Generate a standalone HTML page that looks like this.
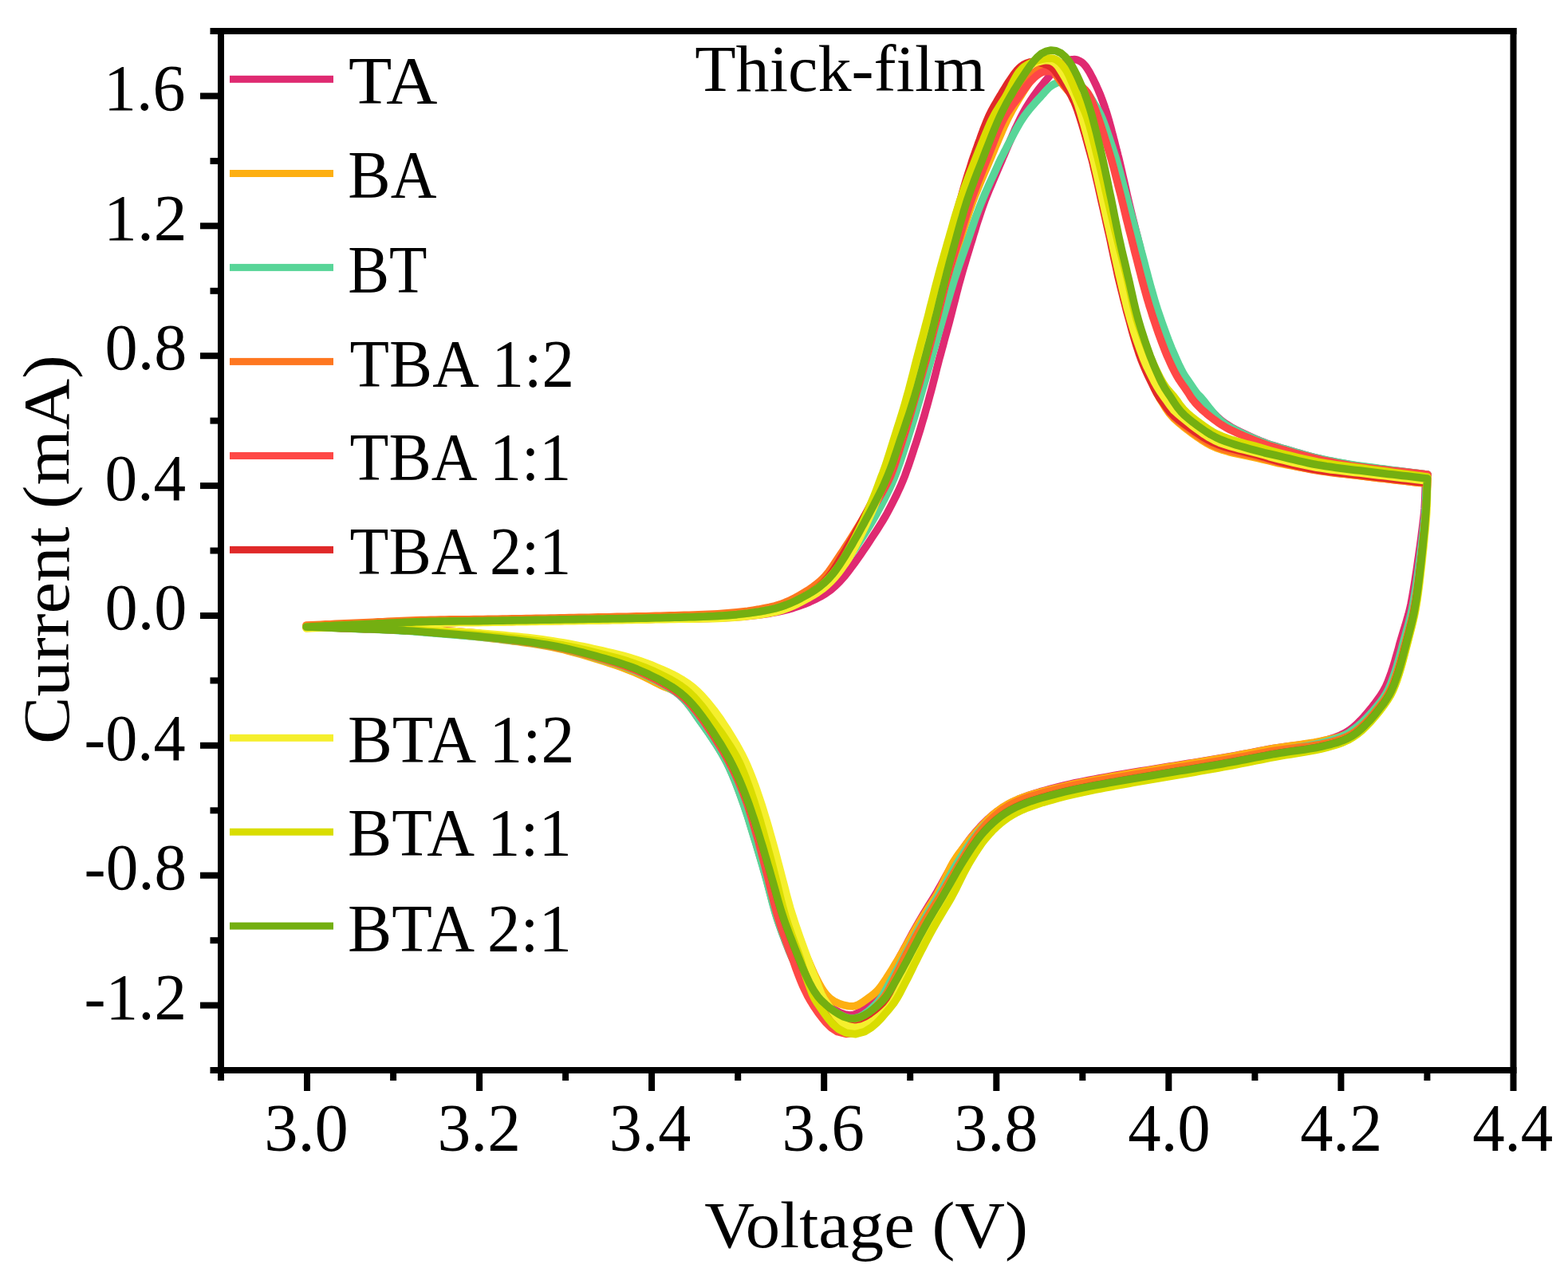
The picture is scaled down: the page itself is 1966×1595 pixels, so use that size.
<!DOCTYPE html>
<html><head><meta charset="utf-8"><title>Thick-film CV</title>
<style>html,body{margin:0;padding:0;background:#fff;}svg{display:block;}</style>
</head><body>
<svg xmlns="http://www.w3.org/2000/svg" width="1966" height="1595" viewBox="0 0 1966 1595">
<rect width="1966" height="1595" fill="#fff"/>
<g fill="none" stroke-width="9.6" stroke-linejoin="round" stroke-linecap="round">
<path stroke="#DF2A71" d="M384.1,787.5 L390.1,787.2 L396.1,786.9 L402.1,786.7 L408.0,786.4 L414.0,786.1 L420.0,785.9 L426.0,785.6 L432.0,785.3 L438.0,785.1 L444.0,784.8 L450.0,784.5 L456.0,784.2 L462.0,784.0 L468.0,783.7 L474.0,783.4 L480.0,783.1 L486.0,782.9 L492.0,782.6 L498.0,782.4 L504.0,782.1 L510.0,781.8 L516.0,781.6 L522.0,781.3 L527.9,781.1 L533.9,780.9 L539.9,780.8 L545.9,780.7 L551.9,780.6 L557.9,780.5 L563.9,780.4 L569.9,780.4 L575.9,780.3 L581.9,780.2 L587.9,780.2 L593.9,780.1 L599.9,780.0 L605.9,780.0 L611.9,779.9 L617.9,779.8 L623.9,779.7 L629.9,779.6 L635.9,779.5 L641.9,779.4 L647.9,779.3 L653.9,779.2 L659.9,779.1 L665.9,779.0 L671.9,778.9 L677.9,778.8 L683.9,778.7 L689.9,778.6 L695.9,778.5 L701.9,778.4 L707.9,778.3 L713.9,778.2 L719.9,778.1 L725.9,778.0 L731.9,777.9 L737.9,777.8 L743.9,777.7 L749.9,777.6 L755.9,777.5 L762.0,777.4 L768.0,777.3 L774.0,777.2 L780.0,777.1 L786.0,777.0 L792.0,776.9 L798.0,776.8 L804.0,776.7 L810.0,776.6 L816.0,776.4 L822.0,776.3 L828.0,776.2 L834.0,776.1 L840.0,775.9 L846.0,775.9 L852.0,775.8 L858.0,775.8 L864.0,775.7 L870.0,775.7 L876.0,775.6 L882.0,775.5 L888.0,775.4 L894.0,775.3 L900.1,775.1 L906.1,774.8 L912.1,774.5 L918.1,774.2 L924.2,773.7 L931.2,773.1 L938.2,772.4 L945.2,771.7 L952.2,770.9 L959.3,770.0 L966.3,768.9 L973.4,767.6 L980.5,766.0 L987.6,764.3 L994.7,762.3 L1001.6,760.0 L1008.5,757.5 L1015.2,754.7 L1021.8,751.6 L1028.4,748.3 L1035.1,744.3 L1041.5,739.8 L1047.5,734.7 L1053.1,729.1 L1058.2,723.4 L1062.9,717.5 L1067.3,711.7 L1071.6,705.8 L1075.8,699.9 L1079.3,694.9 L1082.8,689.8 L1086.3,684.7 L1089.7,679.6 L1093.0,674.5 L1096.4,669.4 L1099.7,664.3 L1102.9,659.2 L1106.2,654.0 L1109.3,648.8 L1112.3,643.5 L1115.2,638.1 L1118.0,632.6 L1120.8,627.1 L1123.6,621.5 L1126.3,615.8 L1129.0,610.0 L1131.9,603.1 L1134.7,596.2 L1136.8,590.2 L1138.9,584.3 L1140.9,578.5 L1142.8,572.7 L1144.7,567.0 L1146.5,561.3 L1148.4,555.7 L1150.2,550.0 L1152.0,544.3 L1153.8,538.5 L1155.5,532.7 L1157.2,526.9 L1159.0,521.0 L1160.6,515.1 L1162.3,509.2 L1163.9,503.2 L1165.5,497.3 L1167.1,491.4 L1168.7,485.5 L1170.2,479.6 L1171.7,473.7 L1173.2,467.9 L1174.6,462.0 L1176.1,456.2 L1177.6,450.4 L1179.2,444.6 L1180.8,438.8 L1182.4,433.0 L1183.9,427.1 L1185.5,421.3 L1187.1,415.5 L1188.6,409.7 L1190.2,403.9 L1191.7,398.0 L1193.2,392.2 L1194.7,386.3 L1196.2,380.5 L1197.7,374.7 L1199.1,368.9 L1200.6,363.2 L1202.1,357.4 L1203.7,351.7 L1205.3,345.9 L1206.9,340.2 L1208.6,334.5 L1210.3,328.8 L1212.0,323.0 L1213.7,317.3 L1215.5,311.6 L1217.2,305.9 L1219.0,300.2 L1220.7,294.4 L1222.5,288.7 L1224.2,283.0 L1226.0,277.4 L1227.8,271.9 L1229.6,266.4 L1231.5,260.9 L1233.4,255.6 L1235.4,250.2 L1237.6,244.8 L1239.7,239.4 L1242.0,234.0 L1244.3,228.6 L1246.6,223.1 L1249.0,217.6 L1251.3,212.1 L1253.7,206.5 L1256.5,200.0 L1257.7,197.2 L1258.9,194.5 L1260.1,191.7 L1261.2,188.9 L1262.4,186.1 L1263.6,183.4 L1264.8,180.6 L1266.0,177.8 L1267.2,175.0 L1268.4,172.3 L1269.6,169.5 L1270.8,166.8 L1272.0,164.0 L1273.2,161.2 L1274.5,158.5 L1275.8,155.8 L1277.1,153.0 L1278.4,150.3 L1279.7,147.6 L1281.1,144.9 L1282.5,142.3 L1284.0,139.6 L1285.5,137.0 L1287.0,134.4 L1288.6,131.9 L1290.2,129.3 L1291.8,126.8 L1293.5,124.3 L1295.2,121.8 L1296.9,119.3 L1298.7,116.8 L1300.5,114.4 L1302.3,112.0 L1304.1,109.6 L1306.0,107.3 L1307.9,104.9 L1309.8,102.6 L1311.7,100.3 L1313.7,98.0 L1315.7,95.7 L1317.7,93.4 L1319.7,91.2 L1321.7,89.0 L1323.8,86.8 L1326.0,84.7 L1328.3,82.7 L1330.6,80.9 L1333.1,79.1 L1335.7,77.6 L1338.4,76.3 L1341.3,75.3 L1344.2,74.7 L1347.2,74.6 L1350.2,75.0 L1353.0,76.1 L1355.6,77.6 L1358.0,79.5 L1360.1,81.7 L1361.9,84.0 L1363.6,86.6 L1365.2,89.1 L1366.7,91.7 L1368.1,94.4 L1369.5,97.0 L1370.9,99.7 L1372.2,102.5 L1373.5,105.2 L1374.8,107.9 L1376.0,110.6 L1377.3,113.4 L1378.4,116.2 L1379.6,119.0 L1380.7,121.8 L1381.7,124.6 L1382.8,127.4 L1383.8,130.3 L1384.8,133.1 L1385.7,136.0 L1386.7,138.8 L1387.6,141.7 L1388.5,144.6 L1389.3,147.5 L1390.2,150.4 L1391.0,153.3 L1391.8,156.2 L1392.6,159.1 L1393.4,162.0 L1394.1,164.9 L1394.9,167.9 L1395.7,170.8 L1396.4,173.7 L1397.2,176.6 L1397.9,179.5 L1398.6,182.5 L1399.4,185.4 L1400.1,188.3 L1400.9,191.2 L1401.6,194.2 L1402.4,197.1 L1403.1,200.0 L1405.2,208.9 L1406.6,214.8 L1407.9,220.7 L1409.3,226.6 L1410.6,232.5 L1411.9,238.3 L1413.2,244.2 L1414.6,250.1 L1416.0,256.0 L1417.4,261.8 L1418.8,267.7 L1420.2,273.5 L1421.7,279.3 L1423.1,285.0 L1424.5,290.7 L1426.0,296.4 L1427.4,302.1 L1428.8,307.8 L1430.2,313.6 L1431.6,319.4 L1433.0,325.2 L1434.4,331.0 L1435.9,336.9 L1437.3,342.8 L1438.8,348.7 L1440.3,354.6 L1441.9,360.4 L1443.5,366.2 L1445.1,371.9 L1446.7,377.4 L1448.3,382.9 L1450.0,388.3 L1451.8,393.7 L1453.6,399.0 L1455.5,404.4 L1457.3,409.9 L1459.3,415.3 L1461.2,420.8 L1463.3,426.2 L1465.3,431.5 L1467.4,436.8 L1469.5,442.0 L1471.7,447.1 L1474.0,452.1 L1476.4,457.1 L1479.3,462.8 L1482.2,468.0 L1485.0,472.5 L1488.1,476.9 L1492.4,482.7 L1496.7,489.0 L1499.9,493.3 L1502.3,496.0 L1505.3,499.0 L1508.8,503.2 L1512.6,508.2 L1516.8,513.3 L1520.7,517.4 L1525.2,521.8 L1529.5,525.6 L1533.8,529.1 L1538.5,532.4 L1543.7,535.6 L1549.4,538.7 L1554.6,541.3 L1559.9,543.8 L1565.3,546.3 L1570.8,548.8 L1576.3,551.3 L1581.8,553.6 L1588.1,556.0 L1594.6,558.2 L1601.3,560.2 L1607.2,562.0 L1613.0,563.7 L1618.8,565.4 L1624.5,567.1 L1630.2,568.7 L1635.9,570.3 L1641.6,571.9 L1647.3,573.3 L1653.0,574.8 L1658.7,576.1 L1664.5,577.4 L1670.3,578.5 L1676.2,579.7 L1682.0,580.8 L1687.9,581.8 L1693.8,582.9 L1699.8,583.8 L1705.7,584.7 L1711.7,585.5 L1717.6,586.2 L1723.6,587.0 L1729.5,587.7 L1735.5,588.4 L1741.4,589.2 L1747.4,589.9 L1753.3,590.6 L1759.3,591.3 L1765.2,592.1 L1771.2,592.8 L1777.2,593.5 L1783.1,594.2 L1789.1,594.9 L1790.1,595.1 L1787.5,600.0 L1787.4,606.9 L1787.2,612.9 L1787.0,618.9 L1786.8,624.9 L1786.5,630.9 L1786.1,637.8 L1785.6,643.8 L1784.9,649.8 L1784.2,655.7 L1783.5,661.7 L1782.7,667.6 L1782.0,673.5 L1781.2,679.5 L1780.4,685.4 L1779.5,691.4 L1778.7,697.3 L1777.8,703.2 L1777.0,709.2 L1776.1,715.1 L1775.2,721.0 L1774.3,726.9 L1773.4,732.8 L1772.4,738.7 L1771.4,744.6 L1770.4,750.5 L1769.1,757.2 L1767.6,764.0 L1765.9,770.6 L1764.0,777.2 L1762.1,783.8 L1760.3,789.5 L1758.5,795.3 L1756.8,801.0 L1755.1,806.8 L1753.6,812.6 L1752.0,818.3 L1750.3,824.1 L1748.7,829.7 L1746.7,836.3 L1744.6,842.8 L1742.3,849.2 L1739.9,855.5 L1737.3,861.4 L1734.3,866.9 L1730.9,872.3 L1727.1,877.6 L1723.1,883.0 L1718.9,888.4 L1714.6,893.6 L1710.2,898.7 L1705.7,903.5 L1701.1,908.1 L1696.3,912.3 L1691.3,916.0 L1686.0,919.3 L1680.3,922.1 L1674.3,924.5 L1667.9,926.6 L1661.3,928.5 L1654.7,930.1 L1648.0,931.4 L1641.2,932.5 L1634.4,933.4 L1628.5,934.2 L1622.5,934.9 L1616.5,935.7 L1610.5,936.5 L1603.5,937.5 L1596.5,938.6 L1590.6,939.6 L1584.6,940.7 L1578.7,941.8 L1572.8,943.0 L1566.9,944.1 L1561.0,945.2 L1555.1,946.3 L1549.2,947.4 L1543.4,948.5 L1537.5,949.5 L1531.6,950.5 L1525.7,951.5 L1519.8,952.5 L1513.9,953.5 L1508.0,954.5 L1502.1,955.4 L1496.2,956.4 L1490.2,957.3 L1484.3,958.3 L1478.4,959.2 L1472.5,960.2 L1466.5,961.1 L1460.6,962.1 L1454.7,963.0 L1448.8,964.0 L1442.8,964.9 L1436.9,965.9 L1431.0,966.8 L1425.0,967.8 L1419.1,968.8 L1413.2,969.8 L1407.2,970.8 L1401.3,971.8 L1395.4,972.8 L1389.5,973.9 L1383.6,975.0 L1377.6,976.0 L1371.7,977.1 L1365.8,978.2 L1359.9,979.4 L1353.9,980.6 L1348.0,981.8 L1341.0,983.4 L1334.1,985.0 L1328.2,986.5 L1322.4,988.0 L1316.5,989.5 L1310.7,991.1 L1303.8,993.0 L1297.0,995.1 L1290.1,997.3 L1283.3,999.8 L1276.5,1002.5 L1269.8,1005.6 L1263.2,1009.0 L1256.8,1012.9 L1250.7,1017.1 L1244.8,1021.7 L1239.3,1026.5 L1234.0,1031.6 L1228.9,1036.9 L1224.0,1042.4 L1219.3,1048.0 L1214.8,1053.8 L1210.6,1059.6 L1206.5,1065.4 L1203.0,1070.4 L1199.6,1075.4 L1195.7,1081.4 L1192.1,1087.6 L1188.6,1093.8 L1185.7,1099.1 L1182.8,1104.3 L1179.9,1109.5 L1177.0,1114.7 L1174.1,1119.8 L1171.0,1124.9 L1167.8,1130.0 L1164.7,1135.1 L1161.5,1140.2 L1158.3,1145.4 L1155.2,1150.6 L1151.6,1156.8 L1148.1,1163.0 L1145.1,1168.3 L1142.3,1173.6 L1139.4,1178.9 L1136.6,1184.2 L1133.8,1189.4 L1130.9,1194.7 L1128.0,1199.9 L1125.2,1205.2 L1122.3,1210.4 L1119.4,1215.5 L1115.9,1221.5 L1112.4,1227.6 L1109.0,1233.6 L1105.7,1239.3 L1102.4,1244.2 L1098.6,1248.6 L1094.3,1253.2 L1089.8,1258.0 L1085.3,1262.6 L1080.6,1266.9 L1075.8,1270.3 L1070.7,1272.4 L1065.2,1273.0 L1059.2,1272.0 L1053.0,1269.7 L1046.9,1266.6 L1040.9,1263.1 L1035.1,1259.2 L1029.5,1255.0 L1024.3,1250.1 L1019.6,1244.7 L1015.3,1238.9 L1011.4,1233.0 L1007.5,1227.0 L1003.9,1220.8 L1000.4,1214.5 L997.5,1209.2 L994.7,1203.8 L992.1,1198.4 L989.7,1192.9 L987.5,1187.3 L985.3,1181.7 L983.2,1176.0 L981.1,1170.3 L979.0,1164.6 L976.6,1157.9 L974.4,1151.2 L972.3,1144.3 L970.4,1137.5 L968.8,1131.7 L967.2,1125.8 L965.7,1120.0 L964.2,1114.2 L962.7,1108.4 L961.2,1102.6 L959.6,1096.9 L957.9,1091.1 L956.3,1085.3 L954.6,1079.6 L952.9,1073.8 L951.2,1068.1 L949.5,1062.4 L947.8,1056.7 L946.0,1050.9 L944.3,1045.2 L942.5,1039.5 L940.8,1033.8 L939.0,1028.1 L937.3,1022.4 L935.4,1016.8 L933.2,1010.2 L930.9,1003.7 L928.8,998.1 L926.8,992.5 L924.7,986.9 L922.2,980.5 L919.6,974.1 L916.9,967.8 L914.0,961.5 L911.0,955.4 L907.8,949.2 L904.3,943.3 L900.7,937.4 L897.0,931.5 L893.2,925.8 L889.3,920.0 L885.3,914.3 L881.3,908.6 L877.3,903.0 L873.4,897.4 L869.5,891.8 L865.5,886.3 L861.3,881.0 L856.7,876.0 L851.8,871.4 L846.4,867.3 L840.7,863.6 L834.8,860.1 L828.8,856.8 L822.7,853.5 L816.6,850.3 L810.4,847.2 L804.1,844.2 L797.8,841.4 L791.4,838.7 L784.9,836.2 L778.4,833.8 L771.8,831.6 L765.2,829.4 L758.5,827.3 L752.8,825.5 L747.0,823.8 L741.3,822.0 L735.5,820.3 L729.8,818.7 L724.0,817.1 L718.2,815.5 L712.4,814.0 L705.6,812.3 L698.8,810.8 L691.9,809.5 L685.0,808.3 L679.1,807.3 L673.2,806.4 L667.2,805.6 L661.3,804.8 L655.3,804.0 L649.4,803.3 L643.4,802.6 L637.4,801.9 L631.5,801.2 L625.5,800.6 L619.5,799.9 L613.6,799.3 L607.6,798.7 L601.6,798.1 L595.7,797.5 L589.7,797.0 L583.7,796.5 L577.7,796.0 L571.7,795.5 L565.8,795.0 L559.8,794.5 L553.8,794.1 L547.8,793.6 L541.8,793.1 L535.9,792.6 L529.9,792.2 L523.9,791.7 L517.9,791.3 L511.9,790.9 L505.9,790.6 L499.9,790.2 L493.9,789.9 L487.9,789.7 L481.9,789.4 L476.0,789.2 L470.0,789.0 L464.0,788.8 L458.0,788.6 L452.0,788.4 L446.0,788.2 L440.0,788.0 L434.0,787.8 L428.0,787.6 L422.0,787.3 L416.0,787.1 L410.0,786.9 L404.0,786.7 L398.0,786.5 L392.0,786.3 L386.0,786.1 L384.0,786.0"/>
<path stroke="#FDAF12" d="M384.0,786.1 L390.0,785.8 L396.0,785.6 L402.0,785.3 L408.0,785.0 L414.0,784.8 L420.0,784.5 L426.0,784.2 L432.0,783.9 L438.0,783.7 L444.0,783.4 L450.0,783.1 L456.0,782.9 L461.9,782.6 L467.9,782.3 L473.9,782.0 L479.9,781.8 L485.9,781.5 L491.9,781.2 L497.9,781.0 L503.9,780.7 L509.9,780.4 L515.9,780.2 L521.9,779.9 L527.9,779.7 L533.9,779.6 L539.9,779.4 L545.9,779.3 L551.9,779.2 L557.9,779.1 L563.9,779.0 L569.9,779.0 L575.9,778.9 L581.9,778.8 L587.9,778.8 L593.9,778.7 L599.9,778.6 L605.9,778.6 L611.9,778.5 L617.9,778.4 L623.9,778.3 L629.9,778.2 L635.9,778.1 L641.9,778.0 L647.9,777.9 L653.9,777.8 L659.9,777.7 L665.9,777.6 L671.9,777.5 L677.9,777.4 L683.9,777.3 L689.9,777.2 L695.9,777.1 L701.9,777.0 L707.9,776.9 L713.9,776.8 L719.9,776.7 L725.9,776.6 L731.9,776.5 L737.9,776.4 L743.9,776.3 L749.9,776.2 L755.9,776.1 L761.9,776.0 L767.9,775.9 L773.9,775.8 L779.9,775.7 L785.9,775.6 L791.9,775.5 L797.9,775.4 L803.9,775.3 L809.9,775.2 L815.9,775.0 L821.9,774.9 L827.9,774.8 L833.9,774.6 L839.9,774.5 L845.9,774.3 L851.9,774.2 L857.9,774.0 L863.9,773.8 L869.9,773.7 L875.9,773.5 L881.9,773.3 L887.9,773.0 L893.9,772.8 L899.9,772.5 L905.9,772.1 L911.9,771.7 L917.9,771.2 L923.9,770.7 L930.8,769.9 L937.8,769.1 L944.7,768.1 L951.6,767.1 L958.5,765.9 L965.4,764.5 L972.2,762.9 L978.9,761.0 L985.5,758.7 L991.9,756.1 L998.3,753.1 L1004.5,750.0 L1010.7,746.8 L1017.0,743.6 L1023.2,740.3 L1029.2,736.6 L1034.9,732.4 L1040.3,727.8 L1045.2,722.6 L1049.8,717.2 L1054.1,711.5 L1058.2,705.7 L1062.1,699.9 L1065.9,693.9 L1069.0,688.7 L1072.0,683.5 L1075.0,678.3 L1078.0,673.1 L1080.9,667.8 L1083.8,662.5 L1086.7,657.3 L1089.6,652.0 L1092.4,646.7 L1095.3,641.4 L1098.1,636.1 L1100.9,630.7 L1103.6,625.4 L1106.4,620.0 L1109.0,614.5 L1111.6,609.0 L1114.0,603.5 L1116.8,597.0 L1119.4,590.4 L1121.5,584.7 L1123.5,579.0 L1125.5,573.3 L1127.4,567.6 L1129.3,561.9 L1131.2,556.2 L1133.1,550.5 L1135.1,544.9 L1137.0,539.2 L1138.9,533.5 L1140.8,527.8 L1142.8,522.1 L1144.6,516.4 L1146.5,510.6 L1148.3,504.9 L1150.0,499.1 L1151.7,493.3 L1153.4,487.5 L1155.0,481.7 L1156.6,475.9 L1158.2,470.1 L1159.7,464.3 L1161.2,458.5 L1162.8,452.7 L1164.3,446.9 L1165.9,441.1 L1167.4,435.3 L1168.9,429.5 L1170.4,423.6 L1171.9,417.8 L1173.4,412.0 L1174.9,406.2 L1176.4,400.4 L1177.9,394.6 L1179.4,388.7 L1180.8,382.9 L1182.3,377.1 L1183.7,371.3 L1185.2,365.4 L1186.6,359.6 L1188.1,353.8 L1189.7,348.1 L1191.4,342.3 L1193.1,336.6 L1194.9,330.8 L1196.7,325.1 L1198.4,319.4 L1200.2,313.6 L1202.0,307.9 L1203.8,302.2 L1205.6,296.5 L1207.3,290.7 L1209.1,285.0 L1210.9,279.3 L1212.7,273.6 L1214.5,267.9 L1216.4,262.3 L1218.3,256.7 L1220.3,251.1 L1222.4,245.6 L1224.6,240.1 L1226.8,234.6 L1229.1,229.1 L1231.4,223.6 L1233.7,218.1 L1236.1,212.6 L1238.5,207.1 L1241.5,200.0 L1242.7,197.2 L1243.8,194.4 L1245.0,191.6 L1246.2,188.8 L1247.3,186.0 L1248.5,183.2 L1249.7,180.5 L1250.9,177.7 L1252.0,174.9 L1253.2,172.1 L1254.4,169.3 L1255.6,166.5 L1256.8,163.7 L1258.0,161.0 L1259.2,158.2 L1260.5,155.4 L1261.8,152.7 L1263.1,150.0 L1264.4,147.2 L1265.8,144.5 L1267.2,141.9 L1268.6,139.2 L1270.1,136.6 L1271.6,133.9 L1273.1,131.3 L1274.7,128.7 L1276.3,126.1 L1277.8,123.6 L1279.4,121.0 L1281.0,118.4 L1282.6,115.8 L1284.2,113.3 L1285.9,110.8 L1287.6,108.2 L1289.2,105.7 L1290.9,103.2 L1292.5,100.6 L1294.1,98.0 L1295.7,95.4 L1297.3,92.9 L1299.1,90.5 L1301.3,88.4 L1303.7,86.6 L1306.5,85.3 L1309.4,84.6 L1312.4,84.6 L1315.3,85.4 L1318.0,86.9 L1320.3,88.8 L1322.3,91.1 L1324.2,93.5 L1326.0,95.9 L1327.7,98.4 L1329.5,100.9 L1331.2,103.3 L1333.0,105.8 L1334.8,108.2 L1336.7,110.6 L1338.6,112.9 L1340.6,115.2 L1342.4,117.6 L1344.0,120.2 L1345.4,122.9 L1346.8,125.6 L1348.1,128.3 L1349.4,131.0 L1350.6,133.8 L1351.8,136.6 L1353.0,139.4 L1354.1,142.2 L1355.2,145.0 L1356.2,147.9 L1357.2,150.7 L1358.2,153.6 L1359.1,156.5 L1360.0,159.3 L1360.9,162.2 L1361.8,165.1 L1362.7,168.0 L1363.6,170.9 L1364.4,173.8 L1365.3,176.7 L1366.1,179.6 L1367.0,182.6 L1367.8,185.5 L1368.6,188.4 L1369.5,191.3 L1370.3,194.2 L1371.2,197.1 L1372.0,200.0 L1372.9,203.7 L1374.2,209.5 L1375.5,215.3 L1376.8,221.1 L1378.1,227.0 L1379.3,232.8 L1380.6,238.7 L1381.8,244.5 L1383.1,250.4 L1384.4,256.2 L1385.7,262.1 L1386.9,267.9 L1388.2,273.8 L1389.5,279.7 L1390.7,285.6 L1392.0,291.5 L1393.4,297.4 L1394.7,303.3 L1395.9,309.2 L1397.2,315.1 L1398.5,321.0 L1399.8,326.9 L1401.1,332.8 L1402.5,338.6 L1403.8,344.5 L1405.1,350.3 L1406.4,356.1 L1407.8,361.9 L1409.1,367.7 L1410.4,373.6 L1411.8,379.5 L1413.2,385.4 L1414.7,391.3 L1416.2,397.3 L1417.9,403.2 L1419.6,409.1 L1421.3,414.9 L1423.1,420.8 L1424.9,426.6 L1426.8,432.4 L1428.8,438.1 L1430.8,443.9 L1432.8,449.7 L1434.9,455.4 L1437.0,461.2 L1439.2,467.0 L1441.6,472.7 L1444.4,479.4 L1447.3,486.2 L1450.5,493.2 L1454.2,499.9 L1457.9,505.8 L1461.4,511.5 L1465.8,517.8 L1471.3,524.1 L1477.2,529.5 L1483.1,534.4 L1488.9,539.0 L1494.7,543.3 L1499.7,547.0 L1505.8,551.1 L1512.3,555.2 L1519.2,558.9 L1526.2,562.0 L1533.4,564.5 L1540.5,566.5 L1546.5,568.0 L1552.5,569.3 L1558.5,570.6 L1564.4,571.8 L1570.3,573.0 L1576.2,574.3 L1583.2,576.0 L1590.2,577.7 L1597.0,579.4 L1602.7,580.7 L1608.6,581.9 L1614.4,583.0 L1620.4,584.1 L1626.3,585.2 L1632.3,586.3 L1638.3,587.3 L1644.3,588.3 L1650.4,589.2 L1656.4,590.2 L1662.4,591.1 L1668.4,592.0 L1674.4,592.8 L1680.4,593.6 L1686.4,594.3 L1692.4,595.0 L1698.3,595.8 L1704.3,596.5 L1710.2,597.2 L1716.2,598.0 L1722.2,598.7 L1728.1,599.4 L1734.1,600.1 L1740.1,600.8 L1746.0,601.5 L1752.0,602.2 L1758.0,602.8 L1763.9,603.5 L1769.9,604.2 L1775.8,604.9 L1781.8,605.6 L1787.8,606.3 L1788.8,606.4 L1789.6,600.0 L1789.4,607.0 L1789.3,613.0 L1789.1,619.0 L1788.9,625.0 L1788.6,631.0 L1788.1,638.0 L1787.7,644.0 L1787.3,649.9 L1786.8,655.9 L1786.2,661.9 L1785.7,667.9 L1785.1,673.8 L1784.5,679.8 L1783.9,685.8 L1783.3,691.8 L1782.6,697.7 L1781.9,703.7 L1781.3,709.6 L1780.6,715.6 L1779.9,721.6 L1779.2,727.5 L1778.4,733.5 L1777.6,739.4 L1776.8,745.4 L1775.9,751.3 L1774.8,758.2 L1773.6,765.1 L1772.2,772.0 L1770.6,778.8 L1768.9,785.6 L1767.4,791.4 L1765.9,797.2 L1764.3,803.0 L1762.8,808.8 L1761.3,814.6 L1759.8,820.4 L1758.2,826.2 L1756.6,832.0 L1754.7,838.7 L1752.6,845.4 L1750.4,852.0 L1747.9,858.6 L1745.2,865.1 L1742.1,871.3 L1738.3,877.2 L1734.0,882.7 L1729.4,887.9 L1724.5,893.0 L1719.6,897.9 L1714.5,902.6 L1709.3,907.1 L1703.9,911.3 L1698.5,915.1 L1692.8,918.5 L1687.0,921.3 L1680.9,923.6 L1674.6,925.4 L1668.0,926.9 L1661.3,928.3 L1654.6,929.7 L1647.9,931.0 L1641.2,932.1 L1634.3,933.1 L1628.4,933.9 L1622.5,934.7 L1616.5,935.5 L1610.5,936.4 L1603.5,937.4 L1596.5,938.6 L1590.6,939.7 L1584.6,940.8 L1578.7,941.9 L1572.8,943.1 L1566.9,944.2 L1561.0,945.3 L1555.2,946.5 L1549.3,947.6 L1543.4,948.7 L1537.5,949.7 L1531.6,950.8 L1525.8,951.8 L1519.9,952.8 L1514.0,953.8 L1508.0,954.8 L1502.1,955.8 L1496.2,956.8 L1490.3,957.8 L1484.4,958.7 L1478.5,959.7 L1472.5,960.7 L1466.6,961.6 L1460.7,962.6 L1454.8,963.6 L1448.9,964.6 L1442.9,965.5 L1437.0,966.5 L1431.1,967.5 L1425.2,968.5 L1419.2,969.5 L1413.3,970.5 L1407.4,971.5 L1401.4,972.6 L1395.5,973.6 L1389.6,974.7 L1383.7,975.8 L1377.8,976.9 L1371.9,978.0 L1366.0,979.1 L1360.0,980.2 L1354.1,981.5 L1348.2,982.7 L1341.2,984.3 L1334.3,985.9 L1328.4,987.3 L1322.6,988.7 L1316.7,990.2 L1310.8,991.6 L1303.9,993.4 L1297.1,995.3 L1290.2,997.4 L1283.3,999.7 L1276.4,1002.3 L1269.7,1005.3 L1263.1,1008.8 L1256.7,1012.7 L1250.7,1017.1 L1244.9,1021.8 L1239.5,1026.8 L1234.4,1032.0 L1229.4,1037.3 L1224.4,1042.8 L1219.6,1048.3 L1215.0,1053.9 L1210.5,1059.6 L1206.2,1065.3 L1202.6,1070.1 L1199.1,1075.1 L1195.2,1081.1 L1191.8,1087.4 L1188.6,1093.8 L1186.0,1099.3 L1183.5,1104.7 L1180.9,1110.1 L1178.2,1115.4 L1175.4,1120.6 L1172.3,1125.7 L1169.1,1130.7 L1165.8,1135.8 L1162.6,1140.9 L1159.3,1146.0 L1156.1,1151.1 L1152.4,1157.2 L1148.8,1163.4 L1145.8,1168.6 L1142.8,1173.9 L1139.8,1179.1 L1136.9,1184.4 L1134.0,1189.6 L1131.0,1194.7 L1128.0,1199.9 L1124.9,1205.0 L1121.8,1210.1 L1118.7,1215.2 L1115.0,1221.0 L1111.3,1226.9 L1107.4,1232.7 L1103.7,1238.0 L1100.0,1242.3 L1096.0,1246.0 L1091.3,1249.7 L1086.2,1253.4 L1081.3,1256.9 L1076.6,1259.7 L1072.6,1261.3 L1069.7,1261.9 L1067.3,1261.8 L1063.7,1261.4 L1058.5,1260.5 L1052.5,1258.7 L1046.5,1256.0 L1041.1,1252.3 L1036.7,1247.9 L1033.0,1243.3 L1029.8,1238.3 L1026.7,1232.7 L1023.6,1226.8 L1020.7,1220.8 L1018.0,1214.7 L1015.3,1208.4 L1012.9,1203.0 L1010.4,1197.6 L1007.7,1192.2 L1005.1,1186.8 L1002.5,1181.4 L999.8,1176.0 L997.3,1170.6 L994.7,1165.2 L992.2,1159.8 L989.5,1153.4 L987.1,1147.0 L985.0,1140.4 L983.1,1133.7 L981.6,1128.0 L980.0,1122.2 L978.6,1116.4 L977.1,1110.6 L975.5,1104.8 L974.0,1098.9 L972.5,1093.1 L970.9,1087.3 L969.4,1081.5 L967.8,1075.7 L966.2,1069.9 L964.7,1064.1 L963.0,1058.3 L961.4,1052.5 L959.6,1046.7 L957.7,1041.0 L955.8,1035.3 L953.9,1029.6 L951.9,1023.9 L949.9,1018.2 L947.8,1012.5 L945.3,1005.8 L942.7,999.2 L940.4,993.6 L938.1,988.0 L935.7,982.4 L932.9,975.9 L929.9,969.5 L926.8,963.1 L923.5,956.7 L920.1,950.5 L916.5,944.4 L912.9,938.3 L909.1,932.2 L905.3,926.3 L901.4,920.4 L897.4,914.6 L893.4,908.8 L889.2,903.1 L884.9,897.6 L880.2,892.2 L875.4,887.0 L870.4,881.9 L865.1,877.2 L859.5,872.9 L853.5,869.3 L847.1,866.4 L840.5,863.9 L834.0,861.5 L827.7,858.8 L821.6,855.7 L815.5,852.5 L809.3,849.4 L803.1,846.5 L796.9,843.6 L790.5,841.0 L784.1,838.5 L777.6,836.1 L771.1,833.8 L764.5,831.6 L757.9,829.5 L752.2,827.7 L746.4,825.9 L740.7,824.2 L735.0,822.4 L729.2,820.7 L723.5,819.1 L717.7,817.5 L712.0,816.0 L705.2,814.2 L698.4,812.7 L691.6,811.3 L684.7,810.0 L678.8,809.0 L672.9,808.0 L667.0,807.1 L661.1,806.3 L655.1,805.4 L649.2,804.6 L643.2,803.9 L637.3,803.1 L631.3,802.4 L625.4,801.6 L619.4,800.9 L613.5,800.2 L607.5,799.5 L601.6,798.9 L595.6,798.2 L589.6,797.6 L583.7,797.0 L577.7,796.5 L571.7,795.9 L565.7,795.3 L559.8,794.8 L553.8,794.3 L547.8,793.7 L541.8,793.2 L535.8,792.7 L529.9,792.2 L523.9,791.8 L517.9,791.3 L511.9,791.0 L505.9,790.6 L499.9,790.3 L493.9,790.0 L487.9,789.7 L481.9,789.4 L476.0,789.2 L470.0,789.0 L464.0,788.8 L458.0,788.6 L452.0,788.4 L446.0,788.2 L440.0,788.0 L434.0,787.8 L428.0,787.6 L422.0,787.4 L416.0,787.1 L410.0,786.9 L404.0,786.7 L398.0,786.5 L392.0,786.3 L386.0,786.1 L384.0,786.0"/>
<path stroke="#58D598" d="M384.0,786.1 L390.0,785.8 L396.0,785.6 L402.0,785.3 L408.0,785.0 L414.0,784.8 L420.0,784.5 L426.0,784.2 L432.0,783.9 L438.0,783.7 L444.0,783.4 L450.0,783.1 L456.0,782.9 L461.9,782.6 L467.9,782.3 L473.9,782.0 L479.9,781.8 L485.9,781.5 L491.9,781.2 L497.9,781.0 L503.9,780.7 L509.9,780.4 L515.9,780.2 L521.9,779.9 L527.9,779.7 L533.9,779.6 L539.9,779.4 L545.9,779.3 L551.9,779.2 L557.9,779.1 L563.9,779.0 L569.9,779.0 L575.9,778.9 L581.9,778.8 L587.9,778.8 L593.9,778.7 L599.9,778.6 L605.9,778.6 L611.9,778.5 L617.9,778.4 L623.9,778.3 L629.9,778.2 L635.9,778.1 L641.9,778.0 L647.9,777.9 L653.9,777.8 L659.9,777.7 L665.9,777.6 L671.9,777.5 L677.9,777.4 L683.9,777.3 L689.9,777.2 L695.9,777.1 L701.9,777.0 L707.9,776.9 L713.9,776.8 L719.9,776.7 L725.9,776.6 L731.9,776.5 L737.9,776.4 L743.9,776.3 L749.9,776.2 L755.9,776.1 L761.9,776.0 L767.9,775.9 L773.9,775.8 L779.9,775.7 L785.9,775.6 L791.9,775.5 L797.9,775.4 L803.9,775.3 L809.9,775.2 L815.9,775.0 L821.9,774.9 L827.9,774.8 L833.9,774.6 L839.9,774.5 L845.9,774.3 L851.9,774.2 L857.9,774.0 L863.9,773.8 L869.9,773.7 L875.9,773.5 L881.9,773.3 L887.9,773.0 L893.9,772.8 L899.9,772.5 L905.9,772.1 L911.9,771.7 L917.9,771.2 L923.9,770.7 L930.8,769.9 L937.8,769.1 L944.7,768.1 L951.6,767.1 L958.5,765.9 L965.4,764.5 L972.2,762.9 L978.9,761.0 L985.5,758.7 L991.9,756.1 L998.3,753.1 L1004.5,750.0 L1010.8,746.9 L1017.2,743.9 L1023.5,740.8 L1029.7,737.3 L1035.7,733.3 L1041.2,728.7 L1046.3,723.5 L1051.0,718.0 L1055.3,712.3 L1059.5,706.6 L1063.5,700.8 L1067.5,694.9 L1070.9,689.9 L1074.2,684.8 L1077.5,679.7 L1080.8,674.6 L1084.0,669.5 L1087.2,664.4 L1090.4,659.2 L1093.5,654.1 L1096.5,648.9 L1099.5,643.6 L1102.3,638.3 L1105.2,632.9 L1108.0,627.6 L1110.7,622.1 L1113.4,616.6 L1116.1,611.1 L1118.6,605.5 L1121.4,598.8 L1124.0,592.1 L1126.1,586.4 L1128.1,580.6 L1130.1,574.8 L1132.0,569.1 L1133.8,563.4 L1135.7,557.7 L1137.5,552.0 L1139.3,546.3 L1141.1,540.6 L1142.9,534.8 L1144.7,529.1 L1146.5,523.3 L1148.2,517.5 L1149.9,511.7 L1151.6,505.9 L1153.3,500.1 L1155.0,494.2 L1156.7,488.4 L1158.4,482.6 L1160.1,476.8 L1161.7,471.0 L1163.3,465.3 L1165.0,459.5 L1166.6,453.7 L1168.2,447.9 L1169.9,442.1 L1171.6,436.4 L1173.2,430.6 L1174.9,424.8 L1176.5,419.0 L1178.2,413.2 L1179.8,407.4 L1181.5,401.7 L1183.1,395.9 L1184.8,390.1 L1186.5,384.3 L1188.2,378.5 L1189.9,372.8 L1191.6,367.0 L1193.3,361.3 L1195.0,355.6 L1196.8,349.9 L1198.7,344.2 L1200.6,338.5 L1202.5,332.8 L1204.5,327.2 L1206.4,321.5 L1208.4,315.9 L1210.4,310.2 L1212.4,304.6 L1214.3,298.9 L1216.3,293.2 L1218.2,287.5 L1220.1,281.9 L1222.0,276.3 L1224.0,270.7 L1226.0,265.3 L1228.1,259.8 L1230.2,254.5 L1232.4,249.1 L1234.6,243.8 L1237.0,238.4 L1239.4,233.0 L1241.8,227.6 L1244.3,222.2 L1246.8,216.8 L1249.3,211.3 L1251.7,205.8 L1254.4,200.0 L1255.8,197.3 L1257.2,194.7 L1258.5,192.0 L1259.9,189.3 L1261.3,186.7 L1262.6,184.0 L1264.0,181.3 L1265.4,178.6 L1266.8,176.0 L1268.2,173.3 L1269.6,170.7 L1271.0,168.0 L1272.4,165.4 L1273.9,162.7 L1275.3,160.1 L1276.8,157.5 L1278.3,154.9 L1279.9,152.3 L1281.5,149.8 L1283.2,147.3 L1284.9,144.8 L1286.6,142.4 L1288.5,140.0 L1290.3,137.7 L1292.2,135.4 L1294.2,133.1 L1296.2,130.8 L1298.1,128.6 L1300.2,126.3 L1302.2,124.1 L1304.2,121.9 L1306.2,119.6 L1308.2,117.4 L1310.2,115.1 L1312.2,112.9 L1314.3,110.8 L1316.5,108.8 L1319.0,107.0 L1321.6,105.5 L1324.3,104.3 L1327.2,103.3 L1330.1,102.7 L1333.1,102.4 L1336.1,102.3 L1339.1,102.5 L1342.0,103.1 L1344.9,104.0 L1347.7,105.1 L1350.4,106.4 L1353.0,107.9 L1355.5,109.5 L1357.9,111.3 L1360.1,113.3 L1362.2,115.5 L1364.1,117.8 L1365.9,120.2 L1367.6,122.7 L1369.2,125.3 L1370.7,127.8 L1372.3,130.4 L1373.9,133.0 L1375.4,135.5 L1377.0,138.1 L1378.4,140.7 L1379.8,143.4 L1381.0,146.1 L1382.2,148.9 L1383.3,151.7 L1384.4,154.5 L1385.4,157.3 L1386.4,160.1 L1387.4,163.0 L1388.4,165.8 L1389.4,168.7 L1390.3,171.5 L1391.3,174.4 L1392.2,177.2 L1393.2,180.0 L1394.1,182.9 L1395.1,185.7 L1396.0,188.6 L1397.0,191.5 L1397.9,194.3 L1398.8,197.2 L1399.8,200.0 L1400.8,203.6 L1402.4,209.5 L1404.1,215.3 L1405.6,221.2 L1407.2,227.0 L1408.7,232.8 L1410.3,238.7 L1411.8,244.5 L1413.4,250.3 L1415.0,256.2 L1416.6,262.0 L1418.1,267.8 L1419.7,273.6 L1421.3,279.3 L1422.9,285.1 L1424.5,290.7 L1426.1,296.4 L1427.6,302.1 L1429.2,307.8 L1430.6,313.5 L1432.2,319.2 L1433.7,325.0 L1435.2,330.8 L1436.7,336.7 L1438.3,342.5 L1439.8,348.4 L1441.4,354.3 L1443.0,360.2 L1444.7,365.9 L1446.3,371.6 L1447.9,377.1 L1449.6,382.6 L1451.3,388.0 L1453.1,393.3 L1454.9,398.6 L1456.8,404.0 L1458.7,409.4 L1460.7,414.9 L1462.7,420.3 L1464.7,425.7 L1466.8,431.0 L1468.9,436.3 L1471.1,441.4 L1473.3,446.5 L1475.5,451.5 L1477.8,456.5 L1480.6,462.2 L1483.3,467.4 L1486.0,471.9 L1489.0,476.3 L1493.1,482.2 L1497.4,488.6 L1500.5,492.8 L1502.8,495.5 L1505.8,498.5 L1509.4,502.6 L1513.1,507.5 L1517.2,512.7 L1520.9,517.1 L1525.1,521.9 L1529.2,526.1 L1533.5,529.8 L1538.2,533.1 L1543.5,536.2 L1549.3,539.3 L1554.4,541.8 L1559.8,544.3 L1565.2,546.8 L1570.7,549.2 L1576.2,551.6 L1581.7,553.8 L1588.1,556.2 L1594.5,558.3 L1601.3,560.3 L1607.2,562.0 L1613.0,563.7 L1618.8,565.4 L1624.5,567.1 L1630.2,568.7 L1635.9,570.3 L1641.6,571.9 L1647.3,573.3 L1653.0,574.7 L1658.8,576.0 L1664.5,577.2 L1670.3,578.3 L1676.2,579.4 L1682.1,580.4 L1688.0,581.5 L1693.9,582.4 L1699.8,583.4 L1705.8,584.3 L1711.7,585.1 L1717.7,585.8 L1723.6,586.6 L1729.5,587.4 L1735.5,588.1 L1741.4,588.9 L1747.4,589.7 L1753.4,590.4 L1759.3,591.2 L1765.3,591.9 L1771.2,592.7 L1777.2,593.4 L1783.1,594.2 L1789.1,594.9 L1790.1,595.0 L1788.5,600.0 L1788.4,607.0 L1788.2,613.0 L1788.0,619.0 L1787.8,625.0 L1787.5,630.9 L1787.1,637.9 L1786.6,643.9 L1786.1,649.8 L1785.5,655.8 L1784.8,661.8 L1784.2,667.7 L1783.5,673.7 L1782.8,679.6 L1782.1,685.6 L1781.3,691.5 L1780.6,697.5 L1779.8,703.4 L1779.0,709.4 L1778.2,715.3 L1777.4,721.3 L1776.6,727.2 L1775.7,733.1 L1774.8,739.1 L1773.9,745.0 L1772.9,750.8 L1771.7,757.7 L1770.3,764.5 L1768.8,771.2 L1767.1,778.0 L1765.3,784.7 L1763.7,790.4 L1762.1,796.2 L1760.5,802.0 L1758.9,807.8 L1757.4,813.6 L1755.8,819.4 L1754.3,825.1 L1752.6,830.9 L1750.7,837.5 L1748.6,844.1 L1746.3,850.6 L1743.9,857.1 L1741.3,863.2 L1738.3,869.1 L1734.7,874.8 L1730.7,880.3 L1726.4,885.6 L1722.0,890.9 L1717.4,896.0 L1712.7,901.0 L1707.9,905.8 L1702.9,910.2 L1697.8,914.3 L1692.5,918.0 L1687.0,921.3 L1681.1,924.0 L1674.9,926.4 L1668.4,928.4 L1661.7,930.3 L1655.1,932.0 L1648.4,933.5 L1641.6,934.8 L1634.8,936.0 L1628.9,937.0 L1622.9,938.0 L1617.0,938.9 L1611.1,940.0 L1604.1,941.2 L1597.2,942.5 L1591.3,943.6 L1585.4,944.7 L1579.5,945.9 L1573.6,947.0 L1567.7,948.2 L1561.8,949.4 L1555.9,950.6 L1550.1,951.7 L1544.2,952.8 L1538.3,953.9 L1532.4,955.0 L1526.5,956.0 L1520.6,957.1 L1514.7,958.1 L1508.8,959.1 L1502.9,960.1 L1496.9,961.1 L1491.0,962.1 L1485.1,963.1 L1479.2,964.1 L1473.3,965.1 L1467.4,966.1 L1461.4,967.1 L1455.5,968.1 L1449.6,969.1 L1443.7,970.1 L1437.8,971.1 L1431.9,972.1 L1425.9,973.2 L1420.0,974.2 L1414.1,975.2 L1408.2,976.3 L1402.3,977.3 L1396.4,978.4 L1390.5,979.5 L1384.6,980.5 L1378.7,981.6 L1372.8,982.7 L1366.9,983.9 L1361.0,985.0 L1355.1,986.2 L1349.2,987.5 L1342.3,989.0 L1335.5,990.6 L1329.6,992.0 L1323.8,993.3 L1317.9,994.7 L1312.0,996.0 L1305.2,997.7 L1298.3,999.5 L1291.5,1001.4 L1284.7,1003.6 L1278.0,1006.0 L1271.4,1008.8 L1264.9,1012.0 L1258.6,1015.6 L1252.6,1019.7 L1246.9,1024.1 L1241.4,1028.8 L1236.1,1033.7 L1231.1,1038.9 L1226.3,1044.3 L1221.8,1050.0 L1217.6,1055.7 L1213.5,1061.6 L1209.6,1067.4 L1206.3,1072.5 L1203.1,1077.6 L1199.3,1083.6 L1195.7,1089.7 L1192.2,1095.8 L1189.2,1101.1 L1186.3,1106.3 L1183.4,1111.5 L1180.4,1116.7 L1177.4,1121.8 L1174.3,1126.9 L1171.2,1132.0 L1168.1,1137.2 L1165.0,1142.3 L1161.9,1147.5 L1158.9,1152.7 L1155.4,1158.9 L1152.0,1165.1 L1149.1,1170.4 L1146.3,1175.7 L1143.5,1181.0 L1140.7,1186.4 L1137.9,1191.7 L1135.1,1196.9 L1132.3,1202.2 L1129.4,1207.5 L1126.6,1212.7 L1123.7,1217.9 L1120.3,1224.0 L1116.8,1230.0 L1113.4,1236.1 L1110.2,1242.1 L1107.1,1247.8 L1103.3,1253.2 L1098.9,1258.3 L1094.0,1263.2 L1088.9,1267.8 L1083.4,1271.9 L1077.5,1275.1 L1071.1,1277.0 L1064.5,1276.8 L1057.9,1274.9 L1051.8,1271.8 L1045.9,1268.1 L1040.2,1263.9 L1034.7,1259.6 L1029.3,1255.1 L1024.0,1250.3 L1019.2,1245.0 L1014.8,1239.3 L1010.7,1233.4 L1006.9,1227.3 L1003.3,1221.0 L1000.0,1214.7 L997.2,1209.3 L994.5,1203.9 L992.0,1198.4 L989.7,1192.9 L987.5,1187.3 L985.2,1181.7 L983.1,1176.1 L980.9,1170.4 L978.8,1164.7 L976.4,1158.0 L974.1,1151.2 L972.0,1144.4 L970.1,1137.6 L968.5,1131.7 L967.0,1125.9 L965.5,1120.1 L964.0,1114.3 L962.4,1108.5 L960.9,1102.7 L959.3,1096.9 L957.6,1091.2 L956.0,1085.4 L954.3,1079.6 L952.6,1073.9 L950.9,1068.2 L949.2,1062.5 L947.5,1056.7 L945.7,1051.0 L944.0,1045.3 L942.3,1039.6 L940.5,1033.9 L938.8,1028.2 L937.0,1022.5 L935.1,1016.9 L932.9,1010.3 L930.6,1003.8 L928.6,998.2 L926.6,992.6 L924.5,987.0 L922.0,980.6 L919.4,974.2 L916.7,967.9 L913.8,961.6 L910.8,955.5 L907.5,949.4 L904.1,943.4 L900.5,937.5 L896.8,931.7 L892.9,925.9 L889.1,920.1 L885.1,914.4 L881.1,908.7 L877.1,903.1 L873.2,897.5 L869.4,891.9 L865.4,886.4 L861.2,881.1 L856.7,876.1 L851.8,871.4 L846.4,867.3 L840.7,863.6 L834.8,860.1 L828.8,856.8 L822.7,853.6 L816.5,850.4 L810.3,847.3 L804.0,844.4 L797.7,841.6 L791.3,839.0 L784.8,836.5 L778.3,834.2 L771.7,832.0 L765.0,829.9 L758.3,827.8 L752.6,826.1 L746.9,824.4 L741.1,822.7 L735.4,821.0 L729.6,819.4 L723.8,817.9 L718.0,816.3 L712.2,814.9 L705.4,813.2 L698.6,811.7 L691.7,810.4 L684.9,809.2 L678.9,808.2 L673.0,807.3 L667.1,806.4 L661.2,805.6 L655.2,804.8 L649.3,804.1 L643.3,803.4 L637.3,802.7 L631.4,802.0 L625.4,801.3 L619.5,800.6 L613.5,800.0 L607.5,799.4 L601.6,798.8 L595.6,798.2 L589.6,797.6 L583.7,797.1 L577.7,796.6 L571.7,796.1 L565.7,795.6 L559.7,795.1 L553.8,794.6 L547.8,794.1 L541.8,793.6 L535.8,793.1 L529.8,792.6 L523.9,792.2 L517.9,791.7 L511.9,791.3 L505.9,790.9 L499.9,790.6 L493.9,790.3 L487.9,790.0 L481.9,789.7 L475.9,789.5 L469.9,789.3 L463.9,789.0 L458.0,788.8 L452.0,788.6 L446.0,788.4 L440.0,788.2 L434.0,787.9 L428.0,787.7 L422.0,787.5 L416.0,787.2 L410.0,787.0 L404.0,786.8 L398.0,786.5 L392.0,786.3 L386.0,786.1 L384.0,786.0"/>
<path stroke="#FE7720" d="M383.9,784.0 L389.9,783.7 L395.9,783.5 L401.9,783.2 L407.9,782.9 L413.9,782.7 L419.9,782.4 L425.9,782.1 L431.9,781.9 L437.9,781.6 L443.9,781.3 L449.9,781.0 L455.9,780.8 L461.8,780.5 L467.8,780.2 L473.8,779.9 L479.8,779.7 L485.8,779.4 L491.8,779.1 L497.8,778.9 L503.8,778.6 L509.8,778.3 L515.8,778.1 L521.8,777.8 L527.8,777.6 L533.8,777.5 L539.9,777.3 L545.9,777.2 L551.9,777.1 L557.9,777.0 L563.9,776.9 L569.9,776.9 L575.9,776.8 L581.9,776.7 L587.9,776.7 L593.9,776.6 L599.9,776.5 L605.9,776.5 L611.9,776.4 L617.9,776.3 L623.9,776.2 L629.9,776.1 L635.9,776.0 L641.9,775.9 L647.9,775.8 L653.9,775.7 L659.9,775.6 L665.9,775.5 L671.9,775.4 L677.9,775.3 L683.9,775.2 L689.9,775.1 L695.9,775.0 L701.9,774.9 L707.9,774.7 L713.9,774.6 L719.9,774.5 L725.9,774.4 L731.9,774.3 L737.9,774.2 L743.9,774.0 L749.9,773.9 L755.9,773.8 L761.9,773.7 L767.9,773.6 L773.9,773.4 L779.9,773.3 L785.9,773.2 L791.9,773.1 L797.9,772.9 L803.9,772.8 L809.9,772.7 L815.9,772.5 L821.9,772.4 L827.9,772.2 L833.9,772.1 L839.9,771.9 L845.9,771.7 L851.9,771.6 L857.9,771.4 L863.9,771.2 L869.8,771.0 L875.8,770.8 L881.8,770.5 L887.8,770.3 L893.8,770.0 L899.8,769.7 L905.7,769.3 L911.7,768.9 L917.6,768.4 L923.6,767.8 L930.5,767.0 L937.4,766.2 L944.3,765.2 L951.1,764.1 L958.0,762.8 L964.7,761.5 L971.4,759.8 L977.9,757.9 L984.3,755.5 L990.5,752.8 L996.6,749.7 L1002.6,746.4 L1008.5,742.9 L1014.4,739.2 L1019.9,735.4 L1025.2,731.3 L1030.0,727.0 L1034.6,722.3 L1038.8,717.3 L1042.7,711.9 L1046.5,706.3 L1050.2,700.6 L1054.0,694.8 L1057.9,689.1 L1061.1,684.1 L1064.4,679.1 L1067.6,674.0 L1070.7,669.0 L1073.9,663.9 L1077.0,658.8 L1080.1,653.6 L1083.2,648.5 L1086.4,643.4 L1089.5,638.3 L1092.7,633.2 L1095.8,628.1 L1098.9,623.0 L1102.0,617.8 L1105.0,612.6 L1107.8,607.3 L1110.6,602.0 L1113.5,595.6 L1116.2,589.1 L1118.3,583.5 L1120.3,577.9 L1122.3,572.2 L1124.3,566.5 L1126.2,560.9 L1128.1,555.2 L1130.1,549.5 L1132.1,543.8 L1134.0,538.2 L1136.0,532.5 L1137.9,526.8 L1139.9,521.1 L1141.8,515.4 L1143.7,509.7 L1145.5,504.0 L1147.3,498.3 L1149.0,492.5 L1150.7,486.7 L1152.3,481.0 L1154.0,475.2 L1155.6,469.4 L1157.1,463.6 L1158.7,457.8 L1160.3,452.0 L1161.9,446.2 L1163.4,440.4 L1165.0,434.6 L1166.6,428.8 L1168.1,423.0 L1169.7,417.2 L1171.2,411.4 L1172.7,405.6 L1174.2,399.8 L1175.8,394.0 L1177.3,388.2 L1178.7,382.4 L1180.2,376.6 L1181.7,370.8 L1183.2,364.9 L1184.7,359.1 L1186.2,353.3 L1187.8,347.6 L1189.4,341.8 L1191.0,336.0 L1192.7,330.2 L1194.3,324.5 L1196.0,318.7 L1197.6,312.9 L1199.3,307.2 L1201.0,301.4 L1202.7,295.7 L1204.4,289.9 L1206.1,284.2 L1207.8,278.4 L1209.6,272.7 L1211.3,267.0 L1213.1,261.3 L1215.0,255.7 L1217.0,250.0 L1219.0,244.4 L1221.1,238.9 L1223.3,233.3 L1225.5,227.7 L1227.7,222.2 L1230.0,216.6 L1232.3,211.1 L1234.5,205.5 L1236.8,200.0 L1237.8,197.2 L1238.9,194.3 L1239.9,191.5 L1241.0,188.7 L1242.0,185.9 L1243.0,183.0 L1244.1,180.2 L1245.1,177.4 L1246.2,174.5 L1247.2,171.7 L1248.3,168.9 L1249.4,166.1 L1250.5,163.3 L1251.6,160.5 L1252.7,157.7 L1253.9,154.9 L1255.1,152.1 L1256.3,149.4 L1257.7,146.7 L1259.0,144.0 L1260.4,141.4 L1261.9,138.7 L1263.5,136.1 L1265.0,133.6 L1266.7,131.0 L1268.3,128.5 L1270.0,126.0 L1271.7,123.5 L1273.3,121.0 L1275.0,118.5 L1276.7,116.0 L1278.4,113.5 L1280.2,111.0 L1281.9,108.6 L1283.7,106.2 L1285.5,103.8 L1287.4,101.4 L1289.2,99.0 L1291.2,96.7 L1293.2,94.5 L1295.3,92.3 L1297.5,90.3 L1299.8,88.3 L1302.2,86.5 L1304.8,84.9 L1307.6,83.9 L1310.6,83.7 L1313.5,84.3 L1316.2,85.8 L1318.5,87.7 L1320.6,89.8 L1322.5,92.1 L1324.3,94.5 L1326.1,97.0 L1327.9,99.4 L1329.6,101.9 L1331.4,104.3 L1333.2,106.7 L1335.1,109.1 L1337.1,111.3 L1339.1,113.6 L1341.0,115.9 L1342.8,118.3 L1344.4,120.9 L1345.9,123.5 L1347.3,126.1 L1348.7,128.8 L1350.1,131.5 L1351.4,134.2 L1352.7,137.0 L1353.9,139.7 L1355.0,142.5 L1356.2,145.3 L1357.3,148.1 L1358.3,150.9 L1359.3,153.8 L1360.2,156.6 L1361.2,159.5 L1362.1,162.4 L1362.9,165.3 L1363.8,168.1 L1364.7,171.0 L1365.5,173.9 L1366.4,176.8 L1367.2,179.7 L1368.0,182.6 L1368.8,185.5 L1369.7,188.4 L1370.5,191.3 L1371.3,194.2 L1372.2,197.1 L1373.0,200.0 L1373.8,203.5 L1375.2,209.3 L1376.5,215.1 L1377.8,220.9 L1379.0,226.8 L1380.3,232.6 L1381.5,238.5 L1382.8,244.3 L1384.1,250.2 L1385.3,256.1 L1386.6,261.9 L1387.9,267.7 L1389.1,273.6 L1390.4,279.5 L1391.7,285.4 L1393.0,291.3 L1394.3,297.2 L1395.6,303.1 L1396.9,309.0 L1398.2,314.9 L1399.5,320.8 L1400.8,326.7 L1402.1,332.5 L1403.4,338.4 L1404.7,344.2 L1406.1,350.1 L1407.4,355.9 L1408.7,361.7 L1410.1,367.5 L1411.4,373.4 L1412.8,379.3 L1414.2,385.2 L1415.6,391.1 L1417.2,397.0 L1418.8,402.9 L1420.5,408.8 L1422.2,414.7 L1424.0,420.5 L1425.8,426.3 L1427.7,432.1 L1429.7,437.8 L1431.7,443.6 L1433.7,449.3 L1435.8,455.1 L1437.9,460.9 L1440.1,466.6 L1442.4,472.4 L1445.2,479.0 L1448.1,485.8 L1451.3,492.8 L1454.9,499.5 L1458.5,505.3 L1462.1,511.0 L1466.5,517.2 L1472.1,523.3 L1478.0,528.6 L1483.9,533.4 L1489.7,537.9 L1495.5,542.2 L1500.5,545.8 L1506.6,550.0 L1513.0,554.0 L1519.8,557.6 L1526.8,560.7 L1533.9,563.1 L1541.0,565.1 L1547.0,566.5 L1552.9,567.9 L1558.9,569.2 L1564.8,570.4 L1570.7,571.6 L1576.6,572.9 L1583.5,574.7 L1590.5,576.5 L1597.2,578.2 L1603.0,579.6 L1608.8,581.0 L1614.6,582.3 L1620.5,583.7 L1626.4,585.0 L1632.3,586.3 L1638.3,587.5 L1644.3,588.7 L1650.3,589.8 L1656.3,590.8 L1662.3,591.6 L1668.4,592.4 L1674.4,593.2 L1680.4,593.9 L1686.4,594.5 L1692.3,595.2 L1698.3,595.8 L1704.3,596.5 L1710.2,597.2 L1716.2,598.0 L1722.2,598.7 L1728.1,599.4 L1734.1,600.1 L1740.1,600.8 L1746.0,601.5 L1752.0,602.2 L1758.0,602.8 L1763.9,603.5 L1769.9,604.2 L1775.8,604.9 L1781.8,605.6 L1787.8,606.3 L1788.8,606.4 L1789.6,600.0 L1789.4,607.0 L1789.3,613.0 L1789.1,619.0 L1788.8,625.0 L1788.6,631.0 L1788.1,638.0 L1787.7,644.0 L1787.2,649.9 L1786.6,655.9 L1786.1,661.9 L1785.5,667.9 L1784.8,673.8 L1784.2,679.8 L1783.5,685.8 L1782.9,691.7 L1782.2,697.7 L1781.5,703.6 L1780.8,709.6 L1780.0,715.5 L1779.3,721.5 L1778.5,727.4 L1777.7,733.4 L1776.9,739.3 L1776.0,745.3 L1775.1,751.2 L1773.9,758.1 L1772.7,764.9 L1771.2,771.8 L1769.6,778.5 L1767.8,785.3 L1766.3,791.1 L1764.7,796.9 L1763.1,802.7 L1761.6,808.5 L1760.0,814.3 L1758.5,820.1 L1756.9,825.8 L1755.2,831.6 L1753.2,838.3 L1751.1,844.9 L1748.8,851.5 L1746.4,858.0 L1743.7,864.3 L1740.5,870.4 L1736.9,876.2 L1732.9,881.8 L1728.6,887.3 L1724.2,892.7 L1719.7,898.0 L1715.1,903.2 L1710.2,908.1 L1705.2,912.8 L1699.9,917.1 L1694.2,920.8 L1688.3,923.9 L1682.0,926.5 L1675.6,928.6 L1668.9,930.4 L1662.2,932.0 L1655.4,933.4 L1648.6,934.6 L1641.7,935.7 L1634.8,936.6 L1628.9,937.3 L1622.9,938.0 L1617.0,938.7 L1611.0,939.5 L1604.0,940.4 L1597.0,941.5 L1591.1,942.5 L1585.2,943.6 L1579.2,944.7 L1573.3,945.9 L1567.5,947.0 L1561.6,948.1 L1555.7,949.2 L1549.8,950.3 L1543.9,951.4 L1538.0,952.4 L1532.1,953.4 L1526.2,954.4 L1520.3,955.4 L1514.4,956.4 L1508.5,957.4 L1502.6,958.3 L1496.6,959.3 L1490.7,960.2 L1484.8,961.2 L1478.9,962.1 L1472.9,963.1 L1467.0,964.0 L1461.1,965.0 L1455.2,965.9 L1449.2,966.9 L1443.3,967.8 L1437.4,968.8 L1431.5,969.8 L1425.5,970.7 L1419.6,971.7 L1413.7,972.7 L1407.7,973.7 L1401.8,974.7 L1395.9,975.7 L1390.0,976.7 L1384.1,977.7 L1378.1,978.7 L1372.2,979.8 L1366.3,980.8 L1360.3,981.9 L1354.4,983.0 L1348.5,984.2 L1341.6,985.7 L1334.7,987.2 L1328.8,988.7 L1322.9,990.1 L1317.1,991.6 L1311.2,993.1 L1304.4,995.0 L1297.6,997.0 L1290.7,999.1 L1283.9,1001.5 L1277.2,1004.1 L1270.6,1007.1 L1264.2,1010.7 L1258.0,1014.7 L1252.1,1019.1 L1246.6,1023.8 L1241.3,1028.7 L1236.3,1033.9 L1231.6,1039.3 L1227.1,1044.9 L1222.9,1050.7 L1218.9,1056.6 L1215.2,1062.7 L1211.6,1068.7 L1208.5,1073.9 L1205.4,1079.1 L1201.7,1085.1 L1198.1,1091.1 L1194.5,1097.1 L1191.5,1102.3 L1188.5,1107.5 L1185.5,1112.7 L1182.4,1117.8 L1179.3,1122.9 L1176.2,1128.0 L1173.0,1133.1 L1169.8,1138.2 L1166.6,1143.3 L1163.5,1148.4 L1160.3,1153.6 L1156.8,1159.7 L1153.3,1165.8 L1150.3,1171.0 L1147.4,1176.3 L1144.6,1181.6 L1141.7,1186.9 L1138.9,1192.1 L1136.0,1197.4 L1133.3,1202.7 L1130.7,1208.1 L1128.1,1213.5 L1125.5,1218.9 L1122.4,1225.2 L1119.2,1231.4 L1116.0,1237.7 L1112.8,1243.7 L1109.2,1249.5 L1105.0,1254.9 L1100.4,1260.1 L1095.8,1265.4 L1090.9,1270.6 L1085.5,1275.6 L1079.2,1279.8 L1071.6,1282.5 L1063.5,1282.2 L1056.1,1279.3 L1049.8,1275.1 L1044.2,1270.4 L1039.1,1265.4 L1034.1,1260.3 L1029.5,1254.9 L1025.3,1249.3 L1021.9,1243.3 L1018.9,1237.0 L1015.9,1230.7 L1013.0,1224.4 L1010.1,1218.1 L1007.4,1211.7 L1005.1,1206.1 L1002.9,1200.6 L1000.6,1195.0 L998.4,1189.4 L996.2,1183.9 L993.9,1178.3 L991.8,1172.7 L989.6,1167.1 L987.5,1161.5 L985.1,1155.0 L982.8,1148.4 L980.7,1141.7 L978.6,1135.1 L976.9,1129.3 L975.3,1123.6 L973.6,1117.8 L972.0,1112.0 L970.4,1106.2 L968.7,1100.5 L967.0,1094.7 L965.3,1088.9 L963.7,1083.2 L962.0,1077.4 L960.3,1071.7 L958.6,1065.9 L956.8,1060.2 L955.1,1054.4 L953.3,1048.7 L951.5,1043.0 L949.6,1037.3 L947.8,1031.5 L945.9,1025.8 L944.0,1020.1 L942.1,1014.5 L939.7,1007.9 L937.2,1001.3 L935.1,995.7 L932.9,990.1 L930.6,984.5 L927.8,978.1 L925.0,971.7 L922.0,965.3 L918.9,959.1 L915.6,952.9 L912.3,946.7 L908.8,940.7 L905.1,934.7 L901.4,928.7 L897.6,922.9 L893.8,917.0 L889.9,911.2 L885.9,905.5 L881.8,899.8 L877.5,894.3 L873.0,889.0 L868.3,883.8 L863.4,878.9 L858.2,874.4 L852.8,870.1 L847.2,866.2 L841.3,862.6 L835.3,859.2 L829.2,856.0 L823.1,852.7 L816.9,849.6 L810.6,846.6 L804.3,843.7 L798.0,840.9 L791.5,838.3 L785.0,835.9 L778.4,833.6 L771.8,831.5 L765.2,829.4 L758.5,827.4 L752.7,825.7 L747.0,824.0 L741.2,822.4 L735.4,820.8 L729.6,819.2 L723.8,817.7 L718.0,816.2 L712.2,814.8 L705.4,813.2 L698.6,811.7 L691.7,810.3 L684.9,809.1 L679.0,808.1 L673.0,807.1 L667.1,806.2 L661.2,805.4 L655.2,804.6 L649.3,803.8 L643.3,803.0 L637.4,802.3 L631.4,801.6 L625.5,800.8 L619.5,800.1 L613.6,799.4 L607.6,798.8 L601.6,798.1 L595.7,797.5 L589.7,796.9 L583.7,796.3 L577.7,795.8 L571.8,795.2 L565.8,794.7 L559.8,794.2 L553.8,793.7 L547.9,793.1 L541.9,792.6 L535.9,792.1 L529.9,791.6 L523.9,791.1 L518.0,790.6 L512.0,790.1 L506.0,789.7 L500.0,789.3 L494.0,789.0 L488.0,788.7 L482.0,788.3 L476.0,788.1 L470.0,787.8 L464.0,787.5 L458.0,787.3 L452.0,787.0 L446.0,786.8 L440.0,786.5 L434.0,786.2 L428.0,786.0 L422.0,785.7 L416.0,785.4 L410.0,785.2 L404.1,784.9 L398.1,784.7 L392.1,784.6 L386.0,784.9 L384.0,785.1"/>
<path stroke="#FE4846" d="M384.0,786.1 L390.0,785.8 L396.0,785.6 L402.0,785.3 L408.0,785.0 L414.0,784.8 L420.0,784.5 L426.0,784.2 L432.0,783.9 L438.0,783.7 L444.0,783.4 L450.0,783.1 L456.0,782.9 L461.9,782.6 L467.9,782.3 L473.9,782.0 L479.9,781.8 L485.9,781.5 L491.9,781.2 L497.9,781.0 L503.9,780.7 L509.9,780.4 L515.9,780.2 L521.9,779.9 L527.9,779.7 L533.9,779.6 L539.9,779.4 L545.9,779.3 L551.9,779.2 L557.9,779.1 L563.9,779.0 L569.9,779.0 L575.9,778.9 L581.9,778.8 L587.9,778.8 L593.9,778.7 L599.9,778.6 L605.9,778.6 L611.9,778.5 L617.9,778.4 L623.9,778.3 L629.9,778.2 L635.9,778.1 L641.9,778.0 L647.9,777.9 L653.9,777.8 L659.9,777.7 L665.9,777.6 L671.9,777.5 L677.9,777.4 L683.9,777.3 L689.9,777.2 L695.9,777.1 L701.9,777.0 L707.9,776.9 L713.9,776.8 L719.9,776.7 L725.9,776.6 L731.9,776.5 L737.9,776.4 L743.9,776.3 L749.9,776.2 L755.9,776.1 L761.9,776.0 L767.9,775.9 L773.9,775.8 L779.9,775.7 L785.9,775.6 L791.9,775.5 L797.9,775.4 L803.9,775.3 L809.9,775.2 L815.9,775.0 L821.9,774.9 L827.9,774.8 L833.9,774.6 L839.9,774.5 L845.9,774.3 L851.9,774.2 L857.9,774.0 L863.9,773.8 L869.9,773.7 L875.9,773.5 L881.9,773.3 L887.9,773.0 L893.9,772.8 L899.9,772.5 L905.9,772.1 L911.9,771.7 L917.9,771.2 L923.9,770.7 L930.8,769.9 L937.8,769.1 L944.7,768.1 L951.6,767.1 L958.5,765.9 L965.4,764.5 L972.2,762.9 L978.9,761.0 L985.5,758.7 L991.9,756.1 L998.3,753.1 L1004.5,750.0 L1010.7,746.8 L1016.9,743.5 L1023.0,740.0 L1028.9,736.3 L1034.5,732.0 L1039.7,727.2 L1044.5,722.0 L1048.9,716.5 L1053.0,710.8 L1056.9,704.9 L1060.6,699.0 L1064.2,692.9 L1067.1,687.6 L1070.0,682.3 L1072.8,677.0 L1075.6,671.7 L1078.3,666.4 L1081.1,661.0 L1083.8,655.7 L1086.6,650.4 L1089.6,645.2 L1092.8,640.0 L1095.9,634.9 L1099.0,629.7 L1102.0,624.5 L1105.1,619.3 L1108.0,614.1 L1110.9,608.7 L1113.7,603.3 L1116.6,596.9 L1119.2,590.3 L1121.2,584.6 L1123.2,578.9 L1125.0,573.1 L1126.9,567.4 L1128.7,561.7 L1130.5,556.0 L1132.3,550.3 L1134.1,544.5 L1135.9,538.8 L1137.6,533.0 L1139.3,527.3 L1141.0,521.5 L1142.7,515.7 L1144.3,509.9 L1145.9,504.1 L1147.6,498.4 L1149.3,492.6 L1151.1,486.9 L1152.8,481.1 L1154.4,475.3 L1156.1,469.5 L1157.7,463.8 L1159.3,458.0 L1161.0,452.2 L1162.5,446.4 L1164.1,440.6 L1165.6,434.8 L1167.1,429.0 L1168.6,423.2 L1170.1,417.4 L1171.6,411.6 L1173.1,405.7 L1174.6,399.9 L1176.1,394.1 L1177.5,388.3 L1179.0,382.4 L1180.4,376.6 L1181.8,370.8 L1183.2,365.0 L1184.7,359.1 L1186.2,353.3 L1187.8,347.6 L1189.5,341.8 L1191.2,336.1 L1193.0,330.3 L1194.8,324.6 L1196.5,318.9 L1198.3,313.1 L1200.1,307.4 L1201.9,301.7 L1203.7,295.9 L1205.4,290.2 L1207.1,284.4 L1208.8,278.7 L1210.6,273.0 L1212.4,267.3 L1214.2,261.6 L1216.1,256.0 L1218.0,250.4 L1220.0,244.8 L1222.1,239.2 L1224.2,233.6 L1226.3,228.1 L1228.5,222.5 L1230.7,216.9 L1232.9,211.3 L1235.1,205.8 L1237.4,200.0 L1238.5,197.2 L1239.6,194.4 L1240.7,191.6 L1241.8,188.8 L1242.9,186.0 L1244.0,183.2 L1245.1,180.4 L1246.2,177.6 L1247.3,174.8 L1248.4,172.0 L1249.5,169.2 L1250.7,166.4 L1251.8,163.6 L1253.0,160.9 L1254.2,158.1 L1255.5,155.4 L1256.7,152.7 L1258.1,150.0 L1259.5,147.3 L1261.0,144.7 L1262.5,142.1 L1264.2,139.6 L1265.8,137.1 L1267.6,134.6 L1269.3,132.2 L1271.1,129.8 L1272.9,127.4 L1274.8,125.0 L1276.6,122.6 L1278.4,120.1 L1280.1,117.7 L1281.9,115.3 L1283.6,112.8 L1285.4,110.4 L1287.2,108.0 L1289.1,105.6 L1291.0,103.3 L1293.1,101.1 L1295.2,99.0 L1297.4,96.9 L1299.7,94.9 L1302.1,93.1 L1304.6,91.5 L1307.3,90.3 L1310.2,89.5 L1313.2,89.2 L1316.2,89.5 L1319.2,90.1 L1322.1,90.9 L1324.9,91.9 L1327.7,92.9 L1330.5,94.0 L1333.3,95.2 L1336.1,96.4 L1338.8,97.7 L1341.4,99.1 L1344.1,100.6 L1346.7,102.1 L1349.3,103.6 L1351.8,105.3 L1354.2,107.1 L1356.6,108.9 L1358.8,110.9 L1361.0,113.0 L1362.9,115.3 L1364.6,117.8 L1366.1,120.4 L1367.4,123.1 L1368.7,125.9 L1369.9,128.6 L1371.0,131.4 L1372.1,134.2 L1373.2,137.0 L1374.3,139.8 L1375.3,142.6 L1376.3,145.5 L1377.3,148.3 L1378.3,151.2 L1379.2,154.0 L1380.2,156.9 L1381.1,159.7 L1382.0,162.6 L1382.9,165.5 L1383.8,168.3 L1384.7,171.2 L1385.6,174.1 L1386.5,177.0 L1387.4,179.9 L1388.2,182.7 L1389.1,185.6 L1390.0,188.5 L1390.9,191.4 L1391.7,194.2 L1392.6,197.1 L1393.5,200.0 L1394.8,204.9 L1396.4,210.8 L1397.9,216.6 L1399.4,222.5 L1400.9,228.3 L1402.4,234.2 L1403.9,240.0 L1405.4,245.8 L1406.8,251.7 L1408.3,257.5 L1409.7,263.4 L1411.1,269.2 L1412.5,275.0 L1414.0,280.8 L1415.4,286.6 L1416.9,292.3 L1418.4,298.1 L1419.8,303.8 L1421.3,309.6 L1422.7,315.3 L1424.2,321.1 L1425.7,326.9 L1427.2,332.7 L1428.7,338.6 L1430.2,344.4 L1431.7,350.3 L1433.3,356.2 L1434.9,362.0 L1436.5,367.7 L1438.1,373.5 L1439.8,379.1 L1441.4,384.6 L1443.2,390.1 L1444.9,395.6 L1446.8,401.1 L1448.6,406.6 L1450.5,412.1 L1452.4,417.6 L1454.4,423.1 L1456.4,428.5 L1458.5,434.0 L1460.6,439.4 L1462.7,444.7 L1465.0,449.9 L1467.3,455.0 L1469.7,460.1 L1472.6,466.0 L1475.6,471.5 L1478.6,476.4 L1481.9,481.2 L1486.0,487.0 L1490.1,493.2 L1493.2,498.1 L1495.9,501.8 L1499.1,505.7 L1503.2,510.1 L1507.8,514.4 L1512.8,518.7 L1517.2,522.3 L1522.3,526.2 L1527.1,529.7 L1532.0,532.9 L1537.0,536.0 L1542.5,538.9 L1548.5,541.7 L1553.8,544.1 L1559.2,546.4 L1564.7,548.6 L1570.2,550.9 L1575.8,553.1 L1581.3,555.2 L1587.7,557.6 L1594.2,559.7 L1601.0,561.7 L1606.8,563.4 L1612.7,565.0 L1618.4,566.7 L1624.2,568.3 L1629.9,569.9 L1635.7,571.4 L1641.4,572.9 L1647.1,574.4 L1652.8,575.7 L1658.6,577.1 L1664.4,578.3 L1670.2,579.5 L1676.0,580.6 L1681.9,581.7 L1687.8,582.8 L1693.7,583.9 L1699.7,584.8 L1705.6,585.6 L1711.6,586.3 L1717.5,587.0 L1723.5,587.7 L1729.4,588.4 L1735.4,589.0 L1741.4,589.7 L1747.3,590.4 L1753.3,591.0 L1759.2,591.7 L1765.2,592.3 L1771.2,593.0 L1777.1,593.6 L1783.1,594.3 L1789.1,595.0 L1790.1,595.1 L1789.5,600.0 L1789.4,607.0 L1789.2,613.0 L1789.0,619.0 L1788.8,625.0 L1788.5,631.0 L1788.1,638.0 L1787.7,644.0 L1787.2,649.9 L1786.7,655.9 L1786.2,661.9 L1785.6,667.9 L1785.1,673.8 L1784.5,679.8 L1783.9,685.8 L1783.2,691.8 L1782.6,697.7 L1781.9,703.7 L1781.2,709.6 L1780.5,715.6 L1779.8,721.6 L1779.1,727.5 L1778.3,733.5 L1777.6,739.4 L1776.7,745.4 L1775.9,751.3 L1774.7,758.2 L1773.5,765.1 L1772.1,772.0 L1770.5,778.8 L1768.8,785.6 L1767.3,791.4 L1765.8,797.2 L1764.2,803.0 L1762.7,808.8 L1761.2,814.6 L1759.7,820.4 L1758.1,826.2 L1756.5,832.0 L1754.5,838.7 L1752.5,845.4 L1750.2,852.0 L1747.8,858.5 L1745.1,865.0 L1741.9,871.2 L1738.2,877.1 L1734.2,882.8 L1730.0,888.4 L1725.6,893.9 L1721.1,899.2 L1716.5,904.4 L1711.6,909.5 L1706.5,914.3 L1701.1,918.7 L1695.4,922.6 L1689.3,926.0 L1682.9,928.8 L1676.3,931.0 L1669.6,933.0 L1662.8,934.7 L1656.0,936.2 L1649.1,937.6 L1642.2,938.8 L1635.3,939.8 L1629.4,940.6 L1623.4,941.4 L1617.5,942.3 L1611.5,943.1 L1604.6,944.2 L1597.7,945.4 L1591.8,946.4 L1585.9,947.5 L1580.0,948.6 L1574.1,949.8 L1568.2,951.0 L1562.3,952.1 L1556.5,953.2 L1550.6,954.3 L1544.7,955.4 L1538.8,956.5 L1532.8,957.6 L1526.9,958.6 L1521.0,959.6 L1515.1,960.6 L1509.2,961.6 L1503.3,962.6 L1497.4,963.6 L1491.4,964.6 L1485.5,965.5 L1479.6,966.5 L1473.7,967.5 L1467.7,968.5 L1461.8,969.4 L1455.9,970.4 L1450.0,971.4 L1444.1,972.4 L1438.1,973.3 L1432.2,974.3 L1426.3,975.3 L1420.4,976.3 L1414.5,977.3 L1408.6,978.3 L1402.6,979.4 L1396.7,980.4 L1390.8,981.5 L1384.9,982.5 L1379.0,983.6 L1373.1,984.7 L1367.2,985.8 L1361.3,986.9 L1355.4,988.1 L1349.6,989.3 L1342.7,990.8 L1335.9,992.4 L1330.1,993.8 L1324.3,995.3 L1318.5,996.8 L1312.7,998.4 L1305.9,1000.3 L1299.2,1002.3 L1292.5,1004.4 L1285.9,1006.8 L1279.4,1009.4 L1273.1,1012.3 L1266.9,1015.6 L1260.9,1019.2 L1255.2,1023.2 L1249.7,1027.6 L1244.5,1032.2 L1239.5,1037.1 L1234.7,1042.2 L1230.2,1047.5 L1225.9,1053.0 L1221.9,1058.7 L1218.0,1064.5 L1214.2,1070.4 L1211.0,1075.5 L1207.9,1080.6 L1204.3,1086.6 L1200.8,1092.6 L1197.4,1098.7 L1194.5,1104.0 L1191.6,1109.3 L1188.7,1114.5 L1185.7,1119.7 L1182.8,1125.0 L1179.7,1130.1 L1176.7,1135.3 L1173.6,1140.5 L1170.6,1145.6 L1167.6,1150.8 L1164.6,1156.0 L1161.2,1162.1 L1157.9,1168.3 L1155.1,1173.6 L1152.3,1178.9 L1149.6,1184.2 L1146.9,1189.6 L1144.2,1194.9 L1141.5,1200.3 L1138.8,1205.7 L1136.2,1211.1 L1133.6,1216.6 L1131.0,1222.0 L1127.9,1228.3 L1124.8,1234.6 L1121.9,1241.0 L1118.8,1247.6 L1115.1,1254.2 L1110.7,1260.4 L1105.8,1266.2 L1101.0,1272.0 L1096.1,1278.1 L1090.4,1284.4 L1082.9,1290.4 L1072.8,1295.0 L1060.8,1296.4 L1050.0,1293.7 L1041.9,1288.4 L1035.8,1282.3 L1030.6,1276.1 L1025.8,1269.8 L1021.2,1263.1 L1016.8,1256.0 L1012.8,1249.0 L1009.4,1242.2 L1006.3,1235.6 L1003.5,1228.9 L1000.8,1222.1 L998.3,1215.4 L996.3,1209.6 L994.4,1204.0 L992.3,1198.3 L990.2,1192.7 L988.1,1187.0 L986.0,1181.4 L984.0,1175.7 L981.9,1170.0 L979.9,1164.3 L977.7,1157.6 L975.6,1150.8 L973.6,1143.9 L971.8,1137.1 L970.3,1131.2 L968.9,1125.4 L967.4,1119.5 L966.0,1113.7 L964.6,1107.9 L963.2,1102.0 L961.7,1096.2 L960.2,1090.4 L958.7,1084.6 L957.2,1078.8 L955.7,1073.0 L954.2,1067.2 L952.6,1061.4 L951.1,1055.6 L949.5,1049.9 L947.8,1044.1 L946.1,1038.4 L944.5,1032.6 L942.8,1026.9 L941.0,1021.1 L939.2,1015.4 L937.1,1008.8 L934.7,1002.2 L932.6,996.6 L930.5,991.1 L928.2,985.5 L925.5,979.1 L922.6,972.8 L919.6,966.5 L916.5,960.3 L913.3,954.1 L909.9,948.0 L906.5,942.0 L902.9,936.0 L899.2,930.1 L895.5,924.2 L891.7,918.4 L887.8,912.6 L883.9,906.9 L879.9,901.2 L875.8,895.6 L871.5,890.1 L867.1,884.9 L862.5,879.8 L857.6,875.1 L852.4,870.7 L846.9,866.6 L841.3,862.7 L835.4,859.1 L829.4,855.7 L823.3,852.3 L817.1,849.1 L810.9,846.0 L804.6,843.0 L798.3,840.2 L791.8,837.5 L785.3,835.0 L778.8,832.7 L772.2,830.4 L765.5,828.3 L758.8,826.2 L753.1,824.4 L747.3,822.7 L741.6,821.0 L735.8,819.3 L730.0,817.7 L724.3,816.1 L718.5,814.5 L712.6,813.0 L705.8,811.3 L699.0,809.8 L692.1,808.5 L685.2,807.3 L679.2,806.4 L673.3,805.5 L667.3,804.7 L661.4,803.9 L655.4,803.2 L649.5,802.5 L643.5,801.8 L637.5,801.1 L631.6,800.5 L625.6,799.8 L619.6,799.2 L613.6,798.6 L607.7,798.0 L601.7,797.4 L595.7,796.9 L589.7,796.4 L583.8,795.9 L577.8,795.4 L571.8,794.9 L565.8,794.4 L559.8,794.0 L553.8,793.5 L547.9,793.1 L541.9,792.6 L535.9,792.2 L529.9,791.7 L523.9,791.3 L517.9,790.9 L511.9,790.5 L505.9,790.2 L499.9,789.9 L494.0,789.6 L488.0,789.4 L482.0,789.1 L476.0,788.9 L470.0,788.7 L464.0,788.5 L458.0,788.4 L452.0,788.2 L446.0,788.0 L440.0,787.8 L434.0,787.6 L428.0,787.4 L422.0,787.2 L416.0,787.0 L410.0,786.8 L404.0,786.6 L398.0,786.5 L392.0,786.3 L386.0,786.1 L384.0,786.0"/>
<path stroke="#E02929" d="M384.0,786.1 L390.0,785.8 L396.0,785.6 L402.0,785.3 L408.0,785.0 L414.0,784.8 L420.0,784.5 L426.0,784.2 L432.0,783.9 L438.0,783.7 L444.0,783.4 L450.0,783.1 L456.0,782.9 L461.9,782.6 L467.9,782.3 L473.9,782.0 L479.9,781.8 L485.9,781.5 L491.9,781.2 L497.9,781.0 L503.9,780.7 L509.9,780.4 L515.9,780.2 L521.9,779.9 L527.9,779.7 L533.9,779.6 L539.9,779.4 L545.9,779.3 L551.9,779.2 L557.9,779.1 L563.9,779.0 L569.9,779.0 L575.9,778.9 L581.9,778.8 L587.9,778.8 L593.9,778.7 L599.9,778.6 L605.9,778.6 L611.9,778.5 L617.9,778.4 L623.9,778.3 L629.9,778.2 L635.9,778.1 L641.9,778.0 L647.9,777.9 L653.9,777.8 L659.9,777.7 L665.9,777.6 L671.9,777.5 L677.9,777.4 L683.9,777.3 L689.9,777.2 L695.9,777.1 L701.9,777.0 L707.9,776.9 L713.9,776.8 L719.9,776.7 L725.9,776.6 L731.9,776.5 L737.9,776.4 L743.9,776.3 L749.9,776.2 L755.9,776.1 L761.9,776.0 L767.9,775.9 L773.9,775.8 L779.9,775.7 L785.9,775.6 L791.9,775.5 L797.9,775.4 L803.9,775.3 L809.9,775.2 L815.9,775.0 L821.9,774.9 L827.9,774.8 L833.9,774.6 L839.9,774.5 L845.9,774.3 L851.9,774.2 L857.9,774.0 L863.9,773.8 L869.9,773.7 L875.9,773.5 L881.9,773.3 L887.9,773.0 L893.9,772.8 L899.9,772.5 L905.9,772.1 L911.9,771.7 L917.9,771.2 L923.9,770.7 L930.8,769.9 L937.8,769.1 L944.7,768.1 L951.6,767.1 L958.5,765.9 L965.4,764.5 L972.2,762.9 L978.9,761.0 L985.5,758.7 L991.9,756.1 L998.3,753.1 L1004.5,750.0 L1010.6,746.5 L1016.5,742.9 L1022.3,738.9 L1027.7,734.7 L1032.8,730.1 L1037.5,725.1 L1041.7,719.7 L1045.7,714.1 L1049.3,708.3 L1052.9,702.3 L1056.4,696.3 L1060.0,690.4 L1063.0,685.2 L1066.0,680.0 L1069.0,674.8 L1071.9,669.6 L1074.7,664.4 L1077.6,659.1 L1080.4,653.8 L1083.2,648.5 L1086.0,643.2 L1088.8,637.9 L1091.6,632.6 L1094.3,627.3 L1097.0,622.0 L1099.6,616.6 L1102.2,611.3 L1104.7,605.9 L1107.0,600.4 L1109.7,594.1 L1112.2,587.6 L1114.2,582.0 L1116.1,576.4 L1118.0,570.8 L1119.9,565.1 L1121.7,559.4 L1123.6,553.7 L1125.5,547.9 L1127.4,542.2 L1129.3,536.5 L1131.1,530.9 L1133.0,525.2 L1134.9,519.5 L1136.7,513.8 L1138.4,508.1 L1140.2,502.4 L1141.9,496.7 L1143.5,490.9 L1145.1,485.2 L1146.7,479.4 L1148.2,473.6 L1149.7,467.8 L1151.2,462.0 L1152.7,456.2 L1154.2,450.4 L1155.7,444.6 L1157.2,438.8 L1158.7,433.0 L1160.2,427.2 L1161.6,421.4 L1163.1,415.5 L1164.5,409.7 L1166.0,403.9 L1167.4,398.1 L1168.8,392.3 L1170.3,386.5 L1171.7,380.6 L1173.1,374.8 L1174.5,369.0 L1175.9,363.1 L1177.3,357.3 L1178.7,351.4 L1180.0,345.5 L1181.4,339.7 L1182.7,333.8 L1184.0,327.9 L1185.4,322.1 L1186.7,316.2 L1188.1,310.3 L1189.5,304.5 L1190.9,298.6 L1192.4,292.8 L1194.0,287.0 L1195.5,281.2 L1197.1,275.4 L1198.7,269.6 L1200.4,263.7 L1202.1,257.9 L1203.8,252.0 L1205.5,246.2 L1207.1,240.3 L1208.8,234.4 L1210.5,228.5 L1212.3,222.7 L1214.1,216.9 L1216.0,211.2 L1217.8,205.5 L1219.5,200.0 L1220.5,197.2 L1221.5,194.3 L1222.5,191.5 L1223.5,188.6 L1224.5,185.8 L1225.5,183.0 L1226.5,180.1 L1227.6,177.3 L1228.6,174.5 L1229.6,171.6 L1230.6,168.8 L1231.7,166.0 L1232.7,163.1 L1233.8,160.3 L1234.9,157.5 L1236.0,154.7 L1237.1,151.9 L1238.3,149.2 L1239.5,146.4 L1240.8,143.7 L1242.1,141.0 L1243.5,138.3 L1244.9,135.6 L1246.4,133.0 L1247.9,130.4 L1249.4,127.8 L1250.9,125.2 L1252.5,122.6 L1254.0,120.0 L1255.6,117.4 L1257.1,114.8 L1258.7,112.3 L1260.3,109.7 L1261.9,107.2 L1263.5,104.6 L1265.1,102.1 L1266.8,99.6 L1268.5,97.1 L1270.2,94.6 L1272.0,92.2 L1273.8,89.8 L1275.8,87.5 L1277.9,85.3 L1280.1,83.4 L1282.6,81.6 L1285.2,80.2 L1288.0,79.0 L1290.9,78.1 L1293.9,77.7 L1296.9,77.6 L1299.9,77.8 L1302.8,78.4 L1305.7,79.1 L1308.6,79.9 L1311.5,80.9 L1314.3,82.0 L1317.0,83.4 L1319.4,85.2 L1321.6,87.3 L1323.5,89.6 L1325.2,92.1 L1326.9,94.5 L1328.6,97.0 L1330.3,99.5 L1332.0,102.0 L1333.7,104.5 L1335.4,107.0 L1337.0,109.5 L1338.6,112.1 L1340.2,114.6 L1341.7,117.2 L1343.2,119.9 L1344.5,122.6 L1345.8,125.3 L1347.1,128.0 L1348.2,130.8 L1349.3,133.6 L1350.4,136.4 L1351.4,139.3 L1352.3,142.1 L1353.3,145.0 L1354.2,147.9 L1355.1,150.7 L1356.0,153.6 L1356.9,156.5 L1357.7,159.4 L1358.6,162.3 L1359.4,165.2 L1360.3,168.1 L1361.1,171.0 L1361.9,173.9 L1362.7,176.8 L1363.5,179.7 L1364.3,182.6 L1365.1,185.5 L1365.9,188.4 L1366.7,191.3 L1367.5,194.2 L1368.3,197.1 L1369.1,200.0 L1370.2,204.3 L1371.5,210.1 L1372.9,215.9 L1374.2,221.7 L1375.6,227.5 L1376.9,233.3 L1378.2,239.2 L1379.5,245.0 L1380.8,250.9 L1382.1,256.7 L1383.5,262.5 L1384.8,268.4 L1386.1,274.2 L1387.4,280.1 L1388.7,286.0 L1390.1,291.9 L1391.4,297.8 L1392.7,303.7 L1393.9,309.7 L1395.2,315.6 L1396.4,321.5 L1397.7,327.4 L1399.0,333.3 L1400.3,339.1 L1401.5,345.0 L1402.9,350.8 L1404.3,356.6 L1405.7,362.4 L1407.2,368.2 L1408.6,374.0 L1410.1,379.9 L1411.6,385.8 L1413.1,391.7 L1414.8,397.7 L1416.4,403.6 L1418.0,409.6 L1419.6,415.5 L1421.3,421.3 L1423.0,427.2 L1424.8,433.0 L1426.7,438.9 L1428.6,444.7 L1430.7,450.4 L1433.0,456.2 L1435.4,461.9 L1437.9,467.6 L1440.5,473.2 L1443.7,479.7 L1447.0,486.4 L1450.6,493.2 L1454.6,499.7 L1458.6,505.3 L1462.5,510.7 L1467.3,516.7 L1473.1,522.5 L1479.2,527.4 L1485.1,531.9 L1491.0,536.2 L1496.9,540.4 L1502.0,543.8 L1508.0,547.8 L1514.5,551.5 L1521.1,554.9 L1528.0,557.7 L1535.0,560.1 L1541.9,562.2 L1547.8,563.7 L1553.7,565.2 L1559.6,566.6 L1565.4,568.0 L1571.3,569.4 L1577.2,570.8 L1584.0,572.8 L1590.8,575.0 L1597.5,577.0 L1603.2,578.6 L1609.0,580.0 L1614.8,581.4 L1620.7,582.7 L1626.6,584.1 L1632.5,585.3 L1638.5,586.6 L1644.4,587.7 L1650.5,588.8 L1656.5,589.8 L1662.5,590.7 L1668.5,591.5 L1674.5,592.2 L1680.5,592.9 L1686.5,593.5 L1692.5,594.2 L1698.4,594.9 L1704.4,595.5 L1710.4,596.3 L1716.3,597.0 L1722.3,597.7 L1728.3,598.4 L1734.2,599.1 L1740.2,599.8 L1746.1,600.5 L1752.1,601.2 L1758.1,601.9 L1764.0,602.5 L1770.0,603.2 L1776.0,603.9 L1781.9,604.6 L1787.9,605.3 L1788.9,605.4 L1789.6,600.0 L1789.4,607.0 L1789.3,613.0 L1789.1,619.0 L1788.8,625.0 L1788.6,631.0 L1788.1,638.0 L1787.7,644.0 L1787.2,649.9 L1786.7,655.9 L1786.2,661.9 L1785.7,667.9 L1785.1,673.8 L1784.5,679.8 L1783.9,685.8 L1783.2,691.8 L1782.6,697.7 L1781.9,703.7 L1781.2,709.6 L1780.5,715.6 L1779.8,721.6 L1779.1,727.5 L1778.4,733.5 L1777.6,739.4 L1776.8,745.4 L1775.9,751.3 L1774.8,758.2 L1773.5,765.1 L1772.1,772.0 L1770.5,778.8 L1768.8,785.6 L1767.3,791.4 L1765.8,797.2 L1764.3,803.0 L1762.8,808.8 L1761.2,814.6 L1759.7,820.4 L1758.2,826.2 L1756.5,832.0 L1754.6,838.7 L1752.5,845.4 L1750.3,852.0 L1747.8,858.6 L1745.1,865.0 L1742.0,871.2 L1738.3,877.2 L1734.3,882.9 L1730.0,888.5 L1725.7,893.9 L1721.2,899.3 L1716.5,904.5 L1711.7,909.5 L1706.6,914.3 L1701.2,918.7 L1695.4,922.7 L1689.3,926.1 L1682.9,928.8 L1676.3,931.1 L1669.6,933.0 L1662.8,934.8 L1656.0,936.3 L1649.1,937.7 L1642.2,938.9 L1635.3,939.9 L1629.4,940.7 L1623.4,941.5 L1617.5,942.4 L1611.5,943.2 L1604.6,944.3 L1597.7,945.4 L1591.8,946.5 L1585.9,947.6 L1580.0,948.7 L1574.1,949.9 L1568.3,951.0 L1562.4,952.2 L1556.5,953.3 L1550.6,954.5 L1544.7,955.5 L1538.8,956.6 L1532.9,957.7 L1527.0,958.7 L1521.0,959.7 L1515.1,960.7 L1509.2,961.7 L1503.3,962.7 L1497.4,963.7 L1491.5,964.7 L1485.5,965.7 L1479.6,966.6 L1473.7,967.6 L1467.8,968.6 L1461.8,969.6 L1455.9,970.5 L1450.0,971.5 L1444.1,972.5 L1438.2,973.5 L1432.2,974.5 L1426.3,975.5 L1420.4,976.5 L1414.5,977.5 L1408.6,978.5 L1402.7,979.5 L1396.8,980.6 L1390.9,981.6 L1385.0,982.7 L1379.0,983.7 L1373.1,984.8 L1367.2,985.9 L1361.3,987.0 L1355.5,988.2 L1349.6,989.4 L1342.8,990.9 L1335.9,992.5 L1330.1,994.0 L1324.3,995.5 L1318.5,997.0 L1312.7,998.5 L1306.0,1000.4 L1299.3,1002.5 L1292.6,1004.6 L1286.0,1006.9 L1279.5,1009.5 L1273.1,1012.4 L1266.9,1015.7 L1261.0,1019.3 L1255.2,1023.2 L1249.7,1027.5 L1244.4,1032.1 L1239.4,1037.0 L1234.5,1042.0 L1230.0,1047.3 L1225.6,1052.8 L1221.5,1058.5 L1217.6,1064.3 L1213.8,1070.1 L1210.6,1075.2 L1207.4,1080.3 L1204.0,1086.4 L1200.7,1092.6 L1197.5,1098.8 L1194.8,1104.2 L1192.2,1109.6 L1189.5,1115.0 L1186.7,1120.3 L1183.9,1125.7 L1181.1,1131.0 L1178.3,1136.3 L1175.4,1141.6 L1172.6,1146.8 L1169.8,1152.1 L1167.0,1157.4 L1163.8,1163.6 L1160.7,1169.8 L1158.0,1175.1 L1155.4,1180.5 L1152.8,1185.9 L1150.2,1191.3 L1147.5,1196.7 L1144.8,1202.1 L1141.9,1207.4 L1139.0,1212.6 L1136.1,1217.9 L1133.1,1223.2 L1129.6,1229.3 L1126.2,1235.4 L1122.9,1241.6 L1119.6,1248.1 L1115.7,1254.6 L1111.0,1260.7 L1105.9,1266.3 L1100.6,1271.4 L1094.9,1276.4 L1088.5,1281.1 L1081.0,1285.1 L1072.1,1287.3 L1062.7,1286.3 L1054.7,1282.6 L1048.2,1277.8 L1042.7,1272.6 L1037.7,1267.1 L1033.0,1261.6 L1028.3,1256.1 L1024.1,1250.3 L1020.4,1244.2 L1017.3,1237.9 L1014.3,1231.5 L1011.4,1225.2 L1008.5,1218.8 L1005.9,1212.3 L1003.6,1206.7 L1001.4,1201.2 L999.2,1195.6 L997.0,1190.0 L994.7,1184.4 L992.5,1178.8 L990.4,1173.2 L988.3,1167.6 L986.2,1162.0 L983.8,1155.4 L981.6,1148.8 L979.4,1142.1 L977.4,1135.4 L975.7,1129.7 L974.1,1123.9 L972.5,1118.1 L970.9,1112.3 L969.3,1106.5 L967.7,1100.8 L966.0,1095.0 L964.3,1089.2 L962.7,1083.5 L961.0,1077.7 L959.4,1071.9 L957.7,1066.2 L956.0,1060.4 L954.2,1054.7 L952.5,1048.9 L950.7,1043.2 L948.9,1037.5 L947.1,1031.8 L945.2,1026.1 L943.4,1020.4 L941.4,1014.7 L939.1,1008.1 L936.7,1001.5 L934.5,995.9 L932.3,990.3 L930.1,984.7 L927.4,978.3 L924.6,971.9 L921.6,965.5 L918.6,959.2 L915.3,953.0 L912.0,946.9 L908.5,940.8 L904.9,934.8 L901.2,928.9 L897.5,923.0 L893.6,917.1 L889.8,911.3 L885.8,905.5 L881.8,899.8 L877.6,894.2 L873.3,888.7 L868.8,883.3 L864.1,878.2 L859.1,873.4 L853.8,868.9 L848.2,864.8 L842.4,860.9 L836.5,857.3 L830.4,853.8 L824.2,850.6 L818.0,847.4 L811.6,844.4 L805.2,841.6 L798.8,838.9 L792.3,836.3 L785.7,833.9 L779.1,831.6 L772.5,829.3 L765.8,827.1 L759.2,824.9 L753.4,823.1 L747.7,821.3 L742.0,819.5 L736.2,817.8 L730.4,816.1 L724.7,814.4 L718.9,812.8 L713.0,811.2 L706.2,809.5 L699.3,807.9 L692.4,806.5 L685.5,805.3 L679.6,804.3 L673.6,803.3 L667.6,802.4 L661.7,801.6 L655.7,800.8 L649.7,800.0 L643.8,799.3 L637.8,798.6 L631.8,797.9 L625.9,797.2 L619.9,796.5 L613.9,795.8 L608.0,795.2 L602.0,794.5 L596.0,793.9 L590.0,793.4 L584.0,792.8 L578.0,792.3 L572.0,791.7 L566.1,791.2 L560.1,790.7 L554.1,790.2 L548.1,789.7 L542.1,789.2 L536.2,788.8 L530.2,788.4 L524.2,788.1 L518.1,787.8 L512.1,787.5 L506.1,787.3 L500.1,787.1 L494.1,786.9 L488.1,786.7 L482.1,786.6 L476.1,786.5 L470.0,786.4 L464.0,786.3 L458.0,786.3 L452.0,786.2 L446.0,786.1 L440.0,786.0 L434.0,786.0 L428.0,786.0 L422.0,786.0 L416.0,786.0 L410.0,786.0 L404.0,786.0 L398.0,786.0 L392.0,786.0 L386.0,785.9 L384.0,785.9"/>
<path stroke="#F5EF2D" d="M384.1,788.0 L390.1,787.7 L396.1,787.5 L402.1,787.2 L408.1,786.9 L414.1,786.7 L420.1,786.4 L426.1,786.1 L432.1,785.9 L438.1,785.6 L444.0,785.3 L450.0,785.0 L456.0,784.8 L462.0,784.5 L468.0,784.2 L474.0,783.9 L480.0,783.7 L486.0,783.4 L492.0,783.1 L498.0,782.9 L504.0,782.6 L510.0,782.3 L516.0,782.1 L522.0,781.8 L528.0,781.6 L533.9,781.5 L539.9,781.3 L545.9,781.2 L551.9,781.1 L557.9,781.0 L563.9,780.9 L569.9,780.9 L575.9,780.8 L581.9,780.7 L587.9,780.7 L593.9,780.6 L599.9,780.6 L605.9,780.5 L611.9,780.4 L617.9,780.3 L623.9,780.2 L629.9,780.1 L635.9,780.0 L641.9,779.9 L647.9,779.8 L653.9,779.7 L660.0,779.6 L666.0,779.5 L672.0,779.4 L678.0,779.3 L684.0,779.2 L690.0,779.1 L696.0,779.0 L702.0,778.9 L708.0,778.8 L714.0,778.7 L720.0,778.6 L726.0,778.5 L732.0,778.4 L738.0,778.3 L744.0,778.2 L750.0,778.1 L756.0,778.0 L762.0,777.9 L768.0,777.8 L774.0,777.7 L780.0,777.6 L786.0,777.5 L792.0,777.4 L798.0,777.3 L804.0,777.2 L810.0,777.1 L816.0,777.0 L822.0,776.8 L828.0,776.7 L834.0,776.6 L840.0,776.4 L846.0,776.4 L852.0,776.3 L858.0,776.2 L864.0,776.2 L870.0,776.1 L876.0,776.0 L882.0,775.9 L888.0,775.8 L894.1,775.6 L900.1,775.4 L906.1,775.1 L912.1,774.8 L918.2,774.5 L924.2,774.0 L931.2,773.4 L938.2,772.6 L945.2,771.8 L952.2,770.9 L959.2,769.8 L966.2,768.5 L973.2,767.0 L980.2,765.1 L987.0,762.8 L993.7,760.1 L1000.2,757.1 L1006.5,753.8 L1012.8,750.4 L1018.9,746.9 L1025.0,743.1 L1030.9,738.9 L1036.6,734.3 L1041.9,729.3 L1046.8,724.0 L1051.4,718.4 L1055.7,712.6 L1059.8,706.8 L1063.7,700.8 L1067.2,694.7 L1070.1,689.4 L1072.9,684.0 L1075.7,678.7 L1078.4,673.3 L1081.0,667.9 L1083.7,662.4 L1086.3,657.0 L1088.8,651.6 L1091.3,646.1 L1093.7,640.5 L1096.1,635.0 L1098.4,629.4 L1100.7,623.9 L1103.0,618.3 L1105.1,612.7 L1107.2,607.0 L1109.3,601.4 L1111.8,594.9 L1114.2,588.4 L1116.2,582.8 L1118.1,577.1 L1119.9,571.4 L1121.7,565.7 L1123.5,560.0 L1125.3,554.2 L1127.2,548.5 L1129.0,542.8 L1130.9,537.1 L1132.7,531.4 L1134.5,525.7 L1136.3,520.0 L1138.1,514.2 L1139.8,508.5 L1141.5,502.8 L1143.1,497.0 L1144.7,491.3 L1146.3,485.5 L1147.8,479.7 L1149.3,473.9 L1150.7,468.1 L1152.2,462.3 L1153.6,456.5 L1155.1,450.6 L1156.5,444.8 L1158.0,439.0 L1159.4,433.2 L1160.8,427.4 L1162.2,421.5 L1163.6,415.7 L1165.0,409.9 L1166.4,404.0 L1167.8,398.2 L1169.2,392.4 L1170.6,386.5 L1171.9,380.7 L1173.3,374.8 L1174.6,369.0 L1176.0,363.1 L1177.4,357.3 L1178.8,351.4 L1180.2,345.6 L1181.7,339.8 L1183.2,333.9 L1184.7,328.1 L1186.2,322.3 L1187.8,316.5 L1189.3,310.7 L1190.9,304.9 L1192.5,299.1 L1194.0,293.3 L1195.6,287.5 L1197.2,281.7 L1198.8,275.9 L1200.4,270.1 L1202.1,264.2 L1203.8,258.4 L1205.6,252.6 L1207.5,246.8 L1209.4,241.1 L1211.4,235.3 L1213.5,229.7 L1215.6,224.0 L1217.8,218.3 L1219.9,212.7 L1222.1,207.1 L1224.8,200.0 L1226.0,197.2 L1227.1,194.4 L1228.3,191.6 L1229.4,188.8 L1230.6,186.0 L1231.7,183.3 L1232.9,180.5 L1234.0,177.7 L1235.2,174.9 L1236.3,172.1 L1237.5,169.3 L1238.7,166.5 L1239.9,163.8 L1241.1,161.0 L1242.3,158.2 L1243.5,155.5 L1244.8,152.7 L1246.1,150.0 L1247.4,147.3 L1248.7,144.6 L1250.2,141.9 L1251.6,139.3 L1253.1,136.6 L1254.6,134.0 L1256.2,131.4 L1257.7,128.9 L1259.3,126.3 L1260.8,123.7 L1262.3,121.1 L1263.8,118.4 L1265.3,115.8 L1266.7,113.1 L1268.1,110.5 L1269.5,107.8 L1270.9,105.1 L1272.4,102.5 L1273.8,99.8 L1275.3,97.2 L1276.9,94.6 L1278.6,92.1 L1280.5,89.8 L1282.5,87.6 L1284.8,85.6 L1287.3,83.8 L1289.9,82.4 L1292.6,81.1 L1295.4,79.9 L1298.2,78.8 L1301.1,77.8 L1304.0,77.0 L1306.9,76.3 L1309.9,75.8 L1312.9,75.6 L1315.9,75.9 L1318.8,76.8 L1321.4,78.3 L1323.8,80.2 L1325.9,82.4 L1327.7,84.8 L1329.3,87.3 L1330.9,89.9 L1332.5,92.5 L1334.0,95.1 L1335.5,97.7 L1337.0,100.3 L1338.5,102.9 L1340.0,105.6 L1341.4,108.2 L1342.8,110.9 L1344.2,113.6 L1345.5,116.3 L1346.8,119.0 L1348.0,121.8 L1349.1,124.6 L1350.2,127.4 L1351.3,130.2 L1352.2,133.1 L1353.1,136.0 L1354.0,138.9 L1354.9,141.8 L1355.7,144.6 L1356.6,147.5 L1357.4,150.4 L1358.3,153.4 L1359.1,156.3 L1359.9,159.2 L1360.7,162.1 L1361.5,165.0 L1362.3,167.9 L1363.1,170.8 L1363.8,173.7 L1364.6,176.7 L1365.4,179.6 L1366.2,182.5 L1366.9,185.4 L1367.7,188.3 L1368.5,191.2 L1369.2,194.2 L1370.0,197.1 L1370.8,200.0 L1371.8,203.9 L1373.1,209.7 L1374.5,215.5 L1375.8,221.3 L1377.1,227.2 L1378.4,233.0 L1379.7,238.8 L1381.0,244.7 L1382.4,250.6 L1383.7,256.4 L1385.0,262.2 L1386.3,268.1 L1387.6,273.9 L1388.9,279.8 L1390.3,285.7 L1391.6,291.6 L1392.9,297.5 L1394.3,303.4 L1395.5,309.3 L1396.8,315.2 L1398.1,321.1 L1399.4,327.0 L1400.7,332.9 L1402.0,338.7 L1403.3,344.6 L1404.7,350.4 L1406.0,356.2 L1407.4,362.0 L1408.8,367.8 L1410.2,373.6 L1411.7,379.5 L1413.1,385.4 L1414.7,391.3 L1416.3,397.3 L1418.0,403.2 L1419.7,409.0 L1421.5,414.9 L1423.4,420.7 L1425.3,426.5 L1427.3,432.2 L1429.3,438.0 L1431.4,443.7 L1433.5,449.4 L1435.9,455.0 L1438.4,460.7 L1441.1,466.2 L1443.8,471.7 L1447.1,478.1 L1450.6,484.5 L1454.5,490.8 L1458.7,496.9 L1462.8,502.5 L1466.7,508.1 L1471.2,513.9 L1476.8,519.1 L1482.5,523.8 L1488.1,528.4 L1493.6,532.8 L1499.3,537.1 L1504.2,540.7 L1510.0,544.8 L1516.1,548.6 L1522.5,552.1 L1529.1,555.1 L1535.9,557.5 L1542.7,559.6 L1548.6,561.2 L1554.4,562.8 L1560.2,564.2 L1566.1,565.7 L1571.9,567.1 L1577.8,568.6 L1584.6,570.5 L1591.3,572.5 L1598.1,574.3 L1603.9,575.8 L1609.7,577.2 L1615.5,578.6 L1621.4,580.0 L1627.2,581.3 L1633.1,582.6 L1639.0,583.9 L1645.0,585.1 L1650.9,586.2 L1656.9,587.1 L1662.9,588.0 L1668.9,588.9 L1674.9,589.6 L1680.8,590.3 L1686.8,591.0 L1692.8,591.7 L1698.7,592.4 L1704.7,593.1 L1710.7,593.8 L1716.6,594.5 L1722.6,595.2 L1728.5,595.9 L1734.5,596.6 L1740.5,597.3 L1746.4,598.0 L1752.4,598.7 L1758.4,599.4 L1764.3,600.1 L1770.3,600.8 L1776.2,601.5 L1782.2,602.2 L1788.2,602.8 L1789.2,603.0 L1789.6,600.0 L1789.5,607.0 L1789.5,613.0 L1789.5,619.0 L1789.4,625.0 L1789.3,631.0 L1789.0,638.0 L1788.7,644.0 L1788.3,650.0 L1787.8,656.0 L1787.3,662.0 L1786.7,668.0 L1786.1,674.0 L1785.6,679.9 L1785.0,685.9 L1784.3,691.9 L1783.7,697.8 L1783.1,703.8 L1782.4,709.8 L1781.7,715.7 L1781.0,721.7 L1780.3,727.7 L1779.6,733.6 L1778.8,739.6 L1778.0,745.5 L1777.1,751.5 L1776.0,758.4 L1774.8,765.3 L1773.4,772.2 L1771.8,779.1 L1770.1,785.9 L1768.6,791.7 L1767.1,797.5 L1765.6,803.3 L1764.1,809.1 L1762.6,814.9 L1761.1,820.8 L1759.5,826.6 L1757.9,832.4 L1756.0,839.1 L1753.9,845.8 L1751.7,852.5 L1749.2,859.1 L1746.5,865.6 L1743.3,872.0 L1739.6,878.0 L1735.5,883.8 L1731.3,889.4 L1726.9,894.9 L1722.4,900.3 L1717.7,905.6 L1712.8,910.7 L1707.7,915.6 L1702.2,920.1 L1696.3,924.1 L1690.1,927.6 L1683.6,930.5 L1676.8,932.8 L1670.1,934.7 L1663.2,936.5 L1656.4,938.1 L1649.5,939.5 L1642.5,940.7 L1635.6,941.7 L1629.6,942.6 L1623.7,943.4 L1617.7,944.2 L1611.8,945.1 L1604.9,946.2 L1598.1,947.3 L1592.2,948.4 L1586.3,949.5 L1580.4,950.6 L1574.5,951.8 L1568.6,952.9 L1562.7,954.1 L1556.8,955.2 L1550.9,956.4 L1545.0,957.5 L1539.1,958.5 L1533.2,959.6 L1527.3,960.6 L1521.4,961.6 L1515.4,962.7 L1509.5,963.7 L1503.6,964.6 L1497.7,965.6 L1491.8,966.6 L1485.8,967.6 L1479.9,968.6 L1474.0,969.5 L1468.1,970.5 L1462.2,971.5 L1456.2,972.5 L1450.3,973.4 L1444.4,974.4 L1438.5,975.4 L1432.6,976.4 L1426.7,977.4 L1420.7,978.4 L1414.8,979.4 L1408.9,980.4 L1403.0,981.5 L1397.1,982.6 L1391.2,983.8 L1385.4,985.0 L1379.5,986.2 L1373.6,987.4 L1367.8,988.7 L1361.9,989.9 L1356.1,991.2 L1350.3,992.6 L1343.5,994.3 L1336.8,996.0 L1331.0,997.6 L1325.3,999.2 L1319.5,1000.9 L1313.8,1002.6 L1307.2,1004.6 L1300.6,1006.8 L1294.1,1009.0 L1287.7,1011.5 L1281.5,1014.2 L1275.4,1017.1 L1269.5,1020.2 L1263.8,1023.7 L1258.4,1027.5 L1253.1,1031.7 L1248.1,1036.2 L1243.3,1040.9 L1238.7,1045.8 L1234.3,1050.9 L1230.2,1056.2 L1226.3,1061.8 L1222.4,1067.5 L1218.7,1073.3 L1215.5,1078.4 L1212.4,1083.4 L1208.9,1089.4 L1205.6,1095.4 L1202.3,1101.5 L1199.5,1106.8 L1196.6,1112.1 L1193.8,1117.4 L1190.9,1122.7 L1187.9,1128.0 L1185.0,1133.3 L1182.0,1138.5 L1179.0,1143.7 L1176.0,1148.9 L1173.1,1154.1 L1170.2,1159.3 L1166.9,1165.3 L1163.8,1171.5 L1161.1,1176.7 L1158.4,1182.1 L1155.7,1187.4 L1153.1,1192.8 L1150.4,1198.2 L1147.6,1203.6 L1144.8,1208.9 L1142.0,1214.2 L1139.2,1219.6 L1136.3,1224.9 L1132.9,1231.1 L1129.6,1237.3 L1126.5,1243.6 L1123.1,1250.3 L1119.0,1257.2 L1114.0,1263.7 L1108.4,1269.2 L1102.7,1274.1 L1096.5,1278.7 L1089.6,1283.0 L1081.6,1286.7 L1072.2,1288.4 L1062.7,1286.6 L1055.1,1281.8 L1049.4,1275.8 L1044.8,1269.6 L1040.6,1263.4 L1036.5,1257.5 L1032.7,1251.8 L1029.6,1245.9 L1027.2,1239.9 L1025.0,1233.6 L1022.5,1227.4 L1019.9,1221.2 L1017.4,1215.0 L1015.0,1208.6 L1013.0,1203.0 L1011.0,1197.3 L1008.9,1191.7 L1006.9,1186.0 L1004.8,1180.4 L1002.8,1174.8 L1000.8,1169.2 L998.9,1163.6 L997.0,1158.1 L994.9,1151.6 L992.8,1145.1 L990.8,1138.6 L989.0,1132.0 L987.4,1126.3 L985.9,1120.6 L984.4,1114.8 L982.9,1109.0 L981.3,1103.1 L979.8,1097.3 L978.3,1091.5 L976.8,1085.7 L975.2,1079.8 L973.7,1074.0 L972.2,1068.2 L970.6,1062.4 L969.0,1056.5 L967.4,1050.7 L965.7,1044.8 L964.1,1039.0 L962.4,1033.2 L960.7,1027.4 L958.9,1021.6 L957.1,1015.7 L955.3,1009.9 L953.0,1003.0 L950.7,996.2 L948.7,990.4 L946.7,984.6 L944.5,978.8 L941.9,972.1 L939.2,965.3 L936.3,958.5 L933.2,951.8 L929.9,945.2 L926.4,938.8 L922.8,932.4 L919.1,926.2 L915.3,920.0 L911.5,913.9 L907.5,907.9 L903.6,901.9 L899.4,896.1 L895.1,890.2 L890.5,884.4 L885.7,878.6 L880.6,872.8 L875.2,867.3 L869.3,862.1 L863.1,857.3 L856.5,853.0 L849.9,849.1 L843.3,845.6 L836.6,842.4 L829.9,839.4 L823.2,836.6 L816.5,833.8 L809.7,831.2 L802.9,828.8 L796.0,826.5 L789.0,824.4 L782.1,822.5 L775.1,820.7 L768.2,819.0 L761.3,817.4 L755.5,816.0 L749.6,814.7 L743.7,813.3 L737.7,812.0 L731.8,810.8 L725.9,809.6 L719.9,808.4 L713.9,807.3 L706.9,806.1 L699.9,804.9 L692.9,803.8 L685.9,802.7 L679.9,801.8 L673.9,801.0 L667.9,800.3 L661.9,799.6 L655.9,799.0 L649.9,798.3 L644.0,797.8 L638.0,797.2 L632.0,796.6 L626.0,796.1 L620.0,795.5 L614.0,795.0 L608.0,794.5 L602.0,794.0 L596.0,793.6 L590.0,793.1 L584.0,792.7 L578.0,792.3 L572.0,791.9 L566.0,791.6 L560.0,791.2 L554.1,790.8 L548.1,790.5 L542.1,790.1 L536.1,789.8 L530.1,789.4 L524.1,789.1 L518.1,788.8 L512.1,788.5 L506.1,788.3 L500.0,788.0 L494.0,787.9 L488.0,787.7 L482.0,787.6 L476.0,787.5 L470.0,787.4 L464.0,787.3 L458.0,787.2 L452.0,787.1 L446.0,787.0 L440.0,786.9 L434.0,786.8 L428.0,786.7 L422.0,786.6 L416.0,786.5 L410.0,786.4 L404.0,786.3 L398.0,786.2 L392.0,786.1 L386.0,786.0 L384.0,786.0"/>
<path stroke="#D9DD00" d="M384.0,786.1 L390.0,785.8 L396.0,785.6 L402.0,785.3 L408.0,785.0 L414.0,784.8 L420.0,784.5 L426.0,784.2 L432.0,783.9 L438.0,783.7 L444.0,783.4 L450.0,783.1 L456.0,782.9 L461.9,782.6 L467.9,782.3 L473.9,782.0 L479.9,781.8 L485.9,781.5 L491.9,781.2 L497.9,781.0 L503.9,780.7 L509.9,780.4 L515.9,780.2 L521.9,779.9 L527.9,779.7 L533.9,779.6 L539.9,779.4 L545.9,779.3 L551.9,779.2 L557.9,779.1 L563.9,779.0 L569.9,779.0 L575.9,778.9 L581.9,778.8 L587.9,778.8 L593.9,778.7 L599.9,778.6 L605.9,778.6 L611.9,778.5 L617.9,778.4 L623.9,778.3 L629.9,778.2 L635.9,778.1 L641.9,778.0 L647.9,777.9 L653.9,777.8 L659.9,777.7 L665.9,777.6 L671.9,777.5 L677.9,777.4 L683.9,777.3 L689.9,777.2 L695.9,777.1 L701.9,777.0 L707.9,776.9 L713.9,776.8 L719.9,776.7 L725.9,776.6 L731.9,776.5 L737.9,776.4 L743.9,776.3 L749.9,776.2 L755.9,776.1 L761.9,776.0 L767.9,775.9 L773.9,775.8 L779.9,775.7 L785.9,775.6 L791.9,775.5 L797.9,775.4 L803.9,775.3 L809.9,775.2 L815.9,775.0 L821.9,774.9 L827.9,774.8 L833.9,774.6 L839.9,774.5 L845.9,774.3 L851.9,774.2 L857.9,774.0 L863.9,773.8 L869.9,773.7 L875.9,773.5 L881.9,773.3 L887.9,773.0 L893.9,772.8 L899.9,772.5 L905.9,772.1 L911.9,771.7 L917.9,771.2 L923.9,770.7 L930.8,769.9 L937.8,769.1 L944.7,768.1 L951.6,767.1 L958.5,765.9 L965.4,764.5 L972.2,762.9 L978.9,761.0 L985.5,758.7 L991.9,756.1 L998.3,753.1 L1004.5,750.0 L1010.6,746.6 L1016.6,743.0 L1022.5,739.2 L1028.1,735.1 L1033.4,730.7 L1038.3,725.9 L1043.0,720.8 L1047.4,715.4 L1051.5,709.7 L1055.4,704.0 L1059.1,698.0 L1062.6,691.9 L1065.5,686.7 L1068.3,681.4 L1071.1,676.0 L1073.8,670.7 L1076.5,665.3 L1079.1,660.0 L1081.8,654.6 L1084.3,649.1 L1086.7,643.6 L1089.1,638.1 L1091.4,632.6 L1093.7,627.0 L1096.0,621.5 L1098.2,615.9 L1100.3,610.4 L1102.4,604.8 L1104.4,599.3 L1106.9,592.9 L1109.2,586.5 L1111.2,580.9 L1113.0,575.3 L1114.8,569.7 L1116.6,564.0 L1118.4,558.3 L1120.2,552.5 L1122.0,546.8 L1123.8,541.0 L1125.6,535.3 L1127.4,529.6 L1129.2,523.9 L1131.0,518.2 L1132.7,512.5 L1134.4,506.8 L1136.0,501.1 L1137.6,495.4 L1139.2,489.7 L1140.7,483.9 L1142.2,478.2 L1143.7,472.4 L1145.2,466.6 L1146.6,460.8 L1148.1,455.0 L1149.6,449.2 L1151.1,443.4 L1152.7,437.6 L1154.2,431.8 L1155.7,426.0 L1157.3,420.2 L1158.8,414.5 L1160.3,408.7 L1161.9,402.9 L1163.4,397.1 L1164.9,391.3 L1166.3,385.5 L1167.8,379.7 L1169.3,373.9 L1170.8,368.0 L1172.2,362.2 L1173.7,356.4 L1175.3,350.5 L1176.8,344.7 L1178.4,338.9 L1180.0,333.1 L1181.6,327.3 L1183.2,321.5 L1184.8,315.7 L1186.5,309.9 L1188.1,304.1 L1189.8,298.3 L1191.4,292.6 L1193.1,286.8 L1194.7,281.0 L1196.4,275.2 L1198.1,269.4 L1199.9,263.6 L1201.7,257.8 L1203.5,252.0 L1205.5,246.2 L1207.5,240.4 L1209.5,234.6 L1211.6,228.9 L1213.7,223.3 L1215.9,217.6 L1218.1,212.0 L1220.3,206.4 L1222.8,200.0 L1223.9,197.2 L1225.1,194.4 L1226.2,191.6 L1227.3,188.8 L1228.4,186.1 L1229.5,183.3 L1230.6,180.5 L1231.8,177.7 L1232.9,174.9 L1234.0,172.1 L1235.2,169.3 L1236.3,166.6 L1237.5,163.8 L1238.7,161.0 L1239.9,158.3 L1241.1,155.5 L1242.3,152.8 L1243.6,150.1 L1245.0,147.4 L1246.4,144.7 L1247.8,142.1 L1249.3,139.5 L1250.9,136.9 L1252.5,134.4 L1254.1,131.9 L1255.7,129.3 L1257.3,126.8 L1258.9,124.3 L1260.5,121.7 L1262.0,119.1 L1263.4,116.4 L1264.8,113.8 L1266.1,111.1 L1267.5,108.4 L1268.8,105.7 L1270.1,103.0 L1271.5,100.3 L1272.9,97.7 L1274.4,95.1 L1276.0,92.5 L1277.7,90.1 L1279.7,87.8 L1281.8,85.7 L1284.1,83.8 L1286.6,82.1 L1289.2,80.6 L1291.9,79.2 L1294.6,77.9 L1297.4,76.8 L1300.2,75.8 L1303.1,75.0 L1306.1,74.3 L1309.0,73.7 L1312.0,73.3 L1315.0,73.1 L1318.0,73.1 L1320.9,73.6 L1323.7,74.6 L1326.3,76.2 L1328.6,78.1 L1330.8,80.2 L1332.7,82.5 L1334.6,84.9 L1336.3,87.4 L1337.8,89.9 L1339.2,92.6 L1340.6,95.3 L1341.8,98.0 L1343.0,100.7 L1344.2,103.5 L1345.4,106.3 L1346.5,109.1 L1347.6,111.8 L1348.8,114.6 L1349.9,117.4 L1351.1,120.2 L1352.3,122.9 L1353.6,125.6 L1354.8,128.4 L1356.1,131.1 L1357.4,133.8 L1358.6,136.6 L1359.8,139.3 L1360.9,142.1 L1362.0,144.9 L1363.0,147.7 L1363.9,150.6 L1364.8,153.5 L1365.7,156.3 L1366.5,159.2 L1367.3,162.1 L1368.1,165.0 L1368.9,167.9 L1369.6,170.8 L1370.4,173.8 L1371.1,176.7 L1371.8,179.6 L1372.6,182.5 L1373.3,185.4 L1374.0,188.3 L1374.7,191.3 L1375.4,194.2 L1376.2,197.1 L1376.9,200.0 L1379.0,208.4 L1380.4,214.2 L1381.8,220.1 L1383.2,225.9 L1384.6,231.7 L1385.9,237.6 L1387.3,243.4 L1388.6,249.3 L1390.0,255.1 L1391.4,260.9 L1392.8,266.8 L1394.2,272.6 L1395.6,278.4 L1397.0,284.3 L1398.4,290.1 L1399.9,296.0 L1401.3,301.8 L1402.8,307.7 L1404.2,313.5 L1405.7,319.3 L1407.2,325.2 L1408.7,331.0 L1410.2,336.8 L1411.7,342.6 L1413.1,348.4 L1414.5,354.2 L1415.8,360.1 L1417.1,366.0 L1418.3,371.8 L1419.6,377.7 L1420.9,383.6 L1422.3,389.4 L1423.8,395.3 L1425.4,401.1 L1427.2,406.8 L1429.2,412.5 L1431.2,418.2 L1433.2,423.9 L1435.3,429.5 L1437.5,435.1 L1439.7,440.7 L1441.9,446.3 L1444.3,451.8 L1446.7,457.3 L1449.2,462.7 L1451.8,468.1 L1455.0,474.4 L1458.4,480.4 L1462.2,486.2 L1466.7,491.4 L1471.4,496.7 L1475.7,502.3 L1479.5,507.9 L1483.6,512.9 L1488.2,517.6 L1493.3,522.0 L1498.7,526.3 L1504.2,530.4 L1509.0,533.9 L1514.6,537.8 L1520.4,541.4 L1526.2,544.5 L1532.4,547.2 L1538.7,549.6 L1545.3,551.7 L1550.9,553.3 L1556.7,554.9 L1562.4,556.5 L1568.2,558.0 L1574.0,559.5 L1579.8,561.1 L1586.4,563.1 L1593.0,565.0 L1599.8,566.8 L1605.7,568.3 L1611.5,569.8 L1617.3,571.2 L1623.1,572.7 L1629.0,574.1 L1634.8,575.5 L1640.6,576.8 L1646.4,578.0 L1652.2,579.2 L1658.1,580.2 L1663.9,581.2 L1669.8,582.1 L1675.7,582.9 L1681.7,583.7 L1687.6,584.4 L1693.6,585.2 L1699.5,586.0 L1705.5,586.8 L1711.4,587.6 L1717.3,588.4 L1723.3,589.2 L1729.2,590.0 L1735.2,590.8 L1741.1,591.6 L1747.1,592.4 L1753.0,593.2 L1759.0,594.0 L1764.9,594.7 L1770.9,595.5 L1776.8,596.3 L1782.8,597.1 L1788.7,597.9 L1789.7,598.0 L1789.5,600.0 L1789.4,607.0 L1789.2,613.0 L1789.0,619.0 L1788.8,625.0 L1788.5,631.0 L1788.1,638.0 L1787.7,644.0 L1787.3,649.9 L1786.8,655.9 L1786.4,661.9 L1785.8,667.9 L1785.3,673.9 L1784.7,679.8 L1784.2,685.8 L1783.6,691.8 L1783.0,697.8 L1782.3,703.7 L1781.7,709.7 L1781.0,715.7 L1780.4,721.6 L1779.7,727.6 L1779.0,733.6 L1778.2,739.5 L1777.4,745.5 L1776.6,751.4 L1775.5,758.3 L1774.3,765.3 L1773.0,772.1 L1771.4,779.0 L1769.8,785.8 L1768.3,791.6 L1766.8,797.4 L1765.3,803.2 L1763.8,809.1 L1762.3,814.9 L1760.8,820.7 L1759.3,826.5 L1757.8,832.3 L1755.8,839.1 L1753.8,845.8 L1751.6,852.5 L1749.2,859.1 L1746.5,865.6 L1743.3,872.0 L1739.6,878.0 L1735.6,883.8 L1731.3,889.5 L1727.0,895.0 L1722.5,900.4 L1717.8,905.7 L1712.9,910.8 L1707.8,915.7 L1702.3,920.3 L1696.5,924.4 L1690.3,928.0 L1683.8,931.0 L1677.0,933.4 L1670.3,935.5 L1663.5,937.4 L1656.6,939.1 L1649.7,940.6 L1642.7,941.9 L1635.8,943.1 L1629.8,944.0 L1623.9,944.9 L1618.0,945.9 L1612.1,946.8 L1605.2,948.0 L1598.4,949.3 L1592.5,950.4 L1586.7,951.5 L1580.8,952.7 L1574.9,953.9 L1569.0,955.1 L1563.1,956.2 L1557.3,957.4 L1551.3,958.6 L1545.4,959.7 L1539.5,960.8 L1533.6,961.9 L1527.7,963.0 L1521.8,964.0 L1515.9,965.1 L1509.9,966.1 L1504.0,967.1 L1498.1,968.2 L1492.2,969.2 L1486.3,970.2 L1480.4,971.2 L1474.4,972.2 L1468.5,973.2 L1462.6,974.2 L1456.7,975.2 L1450.8,976.3 L1444.9,977.3 L1439.0,978.3 L1433.1,979.3 L1427.2,980.3 L1421.2,981.4 L1415.3,982.4 L1409.5,983.5 L1403.6,984.6 L1397.7,985.6 L1391.8,986.8 L1385.9,987.9 L1380.0,989.0 L1374.1,990.1 L1368.3,991.3 L1362.4,992.5 L1356.6,993.7 L1350.8,995.0 L1344.0,996.5 L1337.3,998.2 L1331.5,999.7 L1325.8,1001.2 L1320.0,1002.8 L1314.3,1004.4 L1307.7,1006.3 L1301.1,1008.4 L1294.6,1010.6 L1288.2,1012.9 L1282.0,1015.5 L1276.0,1018.3 L1270.2,1021.4 L1264.6,1024.9 L1259.2,1028.7 L1254.1,1032.8 L1249.1,1037.2 L1244.3,1041.9 L1239.8,1046.8 L1235.5,1051.9 L1231.4,1057.1 L1227.5,1062.7 L1223.8,1068.3 L1220.1,1074.2 L1217.0,1079.3 L1214.0,1084.4 L1210.7,1090.5 L1207.5,1096.6 L1204.5,1102.7 L1201.8,1108.1 L1199.2,1113.5 L1196.4,1118.9 L1193.5,1124.3 L1190.5,1129.5 L1187.4,1134.7 L1184.3,1139.9 L1181.2,1145.1 L1178.1,1150.2 L1175.1,1155.3 L1172.2,1160.4 L1168.8,1166.4 L1165.5,1172.4 L1162.7,1177.6 L1159.9,1182.9 L1157.2,1188.2 L1154.4,1193.5 L1151.7,1198.9 L1149.0,1204.3 L1146.3,1209.7 L1143.7,1215.1 L1141.0,1220.6 L1138.3,1226.0 L1135.0,1232.4 L1131.8,1238.6 L1128.6,1244.8 L1124.9,1251.4 L1120.4,1258.3 L1115.2,1264.9 L1110.0,1270.9 L1104.9,1276.8 L1099.3,1282.6 L1092.6,1288.4 L1084.1,1293.6 L1072.9,1296.7 L1061.0,1295.3 L1051.4,1290.4 L1044.4,1284.3 L1038.9,1277.9 L1034.2,1271.6 L1029.8,1265.3 L1025.4,1258.9 L1021.4,1252.4 L1018.2,1245.6 L1015.7,1238.8 L1013.2,1232.1 L1010.8,1225.4 L1008.6,1218.7 L1006.5,1212.0 L1004.8,1206.3 L1003.0,1200.5 L1001.0,1194.8 L998.9,1189.2 L996.8,1183.6 L994.8,1178.0 L992.7,1172.3 L990.7,1166.7 L988.7,1161.1 L986.5,1154.5 L984.5,1147.8 L982.6,1141.1 L980.8,1134.4 L979.3,1128.6 L977.9,1122.8 L976.5,1117.0 L975.1,1111.1 L973.7,1105.3 L972.2,1099.5 L970.7,1093.6 L969.2,1087.8 L967.7,1082.0 L966.2,1076.2 L964.6,1070.4 L963.0,1064.6 L961.5,1058.8 L959.8,1053.0 L958.2,1047.2 L956.6,1041.4 L954.9,1035.6 L953.3,1029.8 L951.6,1024.0 L949.8,1018.2 L948.0,1012.4 L945.8,1005.6 L943.6,998.9 L941.6,993.2 L939.6,987.4 L937.5,981.7 L935.1,975.0 L932.4,968.3 L929.7,961.7 L926.7,955.1 L923.4,948.7 L919.9,942.5 L916.1,936.4 L912.2,930.3 L908.3,924.4 L904.3,918.6 L900.2,912.8 L896.1,907.0 L891.9,901.3 L887.7,895.5 L883.5,889.7 L879.0,884.0 L874.3,878.5 L869.3,873.1 L864.0,868.0 L858.3,863.3 L852.3,859.0 L846.1,855.1 L839.8,851.5 L833.5,848.2 L827.0,845.0 L820.6,842.0 L814.0,839.2 L807.5,836.4 L800.8,833.9 L794.1,831.5 L787.3,829.2 L780.6,827.2 L773.8,825.2 L766.9,823.3 L760.1,821.6 L754.3,820.1 L748.5,818.6 L742.6,817.1 L736.8,815.7 L730.9,814.4 L725.0,813.0 L719.1,811.7 L713.2,810.5 L706.3,809.1 L699.4,807.9 L692.4,806.6 L685.5,805.5 L679.5,804.6 L673.5,803.7 L667.6,802.9 L661.6,802.2 L655.6,801.5 L649.6,800.8 L643.7,800.2 L637.7,799.6 L631.7,798.9 L625.8,798.3 L619.8,797.7 L613.8,797.2 L607.8,796.6 L601.8,796.1 L595.8,795.6 L589.9,795.1 L583.9,794.6 L577.9,794.2 L571.9,793.7 L565.9,793.3 L559.9,792.9 L553.9,792.5 L547.9,792.1 L541.9,791.7 L536.0,791.2 L530.0,790.8 L524.0,790.4 L518.0,790.1 L512.0,789.7 L506.0,789.4 L500.0,789.2 L494.0,788.9 L488.0,788.7 L482.0,788.5 L476.0,788.3 L470.0,788.2 L464.0,788.0 L458.0,787.9 L452.0,787.8 L446.0,787.6 L440.0,787.5 L434.0,787.3 L428.0,787.2 L422.0,787.0 L416.0,786.8 L410.0,786.7 L404.0,786.5 L398.0,786.4 L392.0,786.2 L386.0,786.0 L384.0,786.0"/>
<path stroke="#74AF11" d="M384.0,786.0 L390.0,785.7 L396.0,785.5 L402.0,785.2 L408.0,784.9 L414.0,784.7 L420.0,784.4 L426.0,784.1 L432.0,783.9 L438.0,783.6 L444.0,783.3 L450.0,783.0 L455.9,782.8 L461.9,782.5 L467.9,782.2 L473.9,781.9 L479.9,781.7 L485.9,781.4 L491.9,781.1 L497.9,780.9 L503.9,780.6 L509.9,780.3 L515.9,780.1 L521.9,779.8 L527.9,779.6 L533.9,779.5 L539.9,779.3 L545.9,779.2 L551.9,779.1 L557.9,779.0 L563.9,778.9 L569.9,778.9 L575.9,778.8 L581.9,778.7 L587.9,778.7 L593.9,778.6 L599.9,778.6 L605.9,778.5 L611.9,778.4 L617.9,778.3 L623.9,778.2 L629.9,778.1 L635.9,778.0 L641.9,777.9 L647.9,777.8 L653.9,777.7 L659.9,777.6 L665.9,777.5 L671.9,777.4 L677.9,777.3 L683.9,777.2 L689.9,777.1 L695.9,777.0 L701.9,776.9 L707.9,776.8 L713.9,776.7 L719.9,776.6 L725.9,776.5 L731.9,776.4 L737.9,776.3 L743.9,776.2 L749.9,776.1 L755.9,776.0 L761.9,775.9 L767.9,775.8 L773.9,775.7 L779.9,775.6 L785.9,775.5 L791.9,775.4 L797.9,775.3 L803.9,775.2 L809.9,775.1 L815.9,774.9 L821.9,774.8 L827.9,774.7 L833.9,774.5 L839.9,774.4 L845.9,774.2 L851.9,774.1 L857.9,773.9 L863.9,773.8 L869.9,773.6 L875.9,773.4 L881.9,773.2 L887.9,772.9 L893.9,772.7 L899.9,772.4 L905.9,772.0 L911.9,771.6 L917.9,771.1 L923.8,770.6 L930.8,769.8 L937.8,769.0 L944.7,768.0 L951.6,767.0 L958.5,765.8 L965.4,764.4 L972.2,762.8 L978.9,760.9 L985.4,758.6 L991.9,756.0 L998.2,753.1 L1004.5,749.9 L1010.6,746.6 L1016.7,743.1 L1022.6,739.4 L1028.2,735.3 L1033.6,730.9 L1038.6,726.1 L1043.2,720.9 L1047.5,715.5 L1051.5,709.8 L1055.4,703.9 L1059.2,698.0 L1062.8,692.1 L1065.9,686.9 L1069.0,681.7 L1071.9,676.5 L1074.9,671.3 L1077.8,666.1 L1080.7,660.8 L1083.6,655.6 L1086.4,650.3 L1089.3,645.0 L1092.1,639.7 L1094.9,634.4 L1097.7,629.1 L1100.4,623.7 L1103.1,618.4 L1105.7,613.0 L1108.3,607.5 L1110.7,602.0 L1113.4,595.6 L1116.0,589.1 L1118.1,583.5 L1120.1,577.8 L1122.0,572.1 L1123.9,566.4 L1125.8,560.7 L1127.7,555.0 L1129.6,549.3 L1131.6,543.7 L1133.5,538.0 L1135.4,532.3 L1137.3,526.6 L1139.2,520.9 L1141.1,515.2 L1142.9,509.5 L1144.7,503.8 L1146.5,498.0 L1148.1,492.3 L1149.8,486.5 L1151.4,480.7 L1153.0,474.9 L1154.5,469.1 L1156.1,463.3 L1157.6,457.5 L1159.1,451.7 L1160.7,445.9 L1162.2,440.1 L1163.7,434.3 L1165.3,428.5 L1166.8,422.7 L1168.3,416.9 L1169.8,411.1 L1171.3,405.3 L1172.7,399.4 L1174.2,393.6 L1175.7,387.8 L1177.1,382.0 L1178.5,376.2 L1180.0,370.3 L1181.4,364.5 L1182.9,358.7 L1184.4,352.9 L1185.9,347.1 L1187.4,341.2 L1188.9,335.4 L1190.4,329.6 L1192.0,323.8 L1193.6,318.0 L1195.1,312.3 L1196.7,306.5 L1198.3,300.7 L1199.9,294.9 L1201.5,289.1 L1203.1,283.3 L1204.7,277.5 L1206.4,271.8 L1208.0,266.0 L1209.8,260.3 L1211.6,254.5 L1213.4,248.8 L1215.4,243.2 L1217.4,237.5 L1219.5,231.9 L1221.6,226.3 L1223.7,220.7 L1225.9,215.1 L1228.1,209.5 L1230.3,203.9 L1232.5,198.3 L1234.6,192.7 L1236.8,187.1 L1239.0,181.5 L1241.2,175.9 L1243.4,170.3 L1245.6,164.8 L1247.9,159.2 L1250.3,153.7 L1252.7,148.2 L1255.6,141.9 L1258.8,135.6 L1262.0,129.4 L1265.0,124.2 L1268.0,119.0 L1271.0,113.8 L1274.2,108.7 L1277.4,103.7 L1280.7,98.6 L1284.0,93.6 L1287.3,88.7 L1291.3,82.9 L1295.6,77.3 L1300.2,72.1 L1305.3,67.6 L1311.3,64.4 L1317.8,63.0 L1324.3,63.8 L1330.3,66.6 L1335.5,71.1 L1340.0,76.4 L1343.8,82.2 L1347.2,88.3 L1350.3,94.5 L1352.8,100.0 L1355.2,105.5 L1357.6,111.0 L1360.2,117.5 L1362.6,124.1 L1364.8,130.7 L1366.9,137.4 L1368.6,143.2 L1370.2,148.9 L1371.7,154.7 L1373.2,160.5 L1374.7,166.4 L1376.1,172.2 L1377.5,178.0 L1378.9,183.9 L1380.3,189.7 L1381.7,195.6 L1383.0,201.4 L1384.3,207.3 L1385.6,213.1 L1386.8,219.0 L1388.1,224.9 L1389.3,230.7 L1390.5,236.6 L1391.7,242.5 L1393.0,248.4 L1394.2,254.2 L1395.4,260.1 L1396.5,266.0 L1397.7,271.9 L1398.9,277.8 L1400.1,283.7 L1401.3,289.5 L1402.5,295.4 L1403.8,301.3 L1405.1,307.1 L1406.4,313.0 L1407.8,318.8 L1409.2,324.7 L1410.6,330.5 L1412.0,336.4 L1413.3,342.2 L1414.7,348.0 L1416.1,353.9 L1417.4,359.7 L1418.7,365.6 L1420.0,371.4 L1421.3,377.3 L1422.7,383.1 L1424.1,389.0 L1425.6,394.8 L1427.2,400.6 L1428.9,406.3 L1430.6,412.1 L1432.4,417.8 L1434.3,423.5 L1436.1,429.2 L1438.1,434.9 L1440.1,440.6 L1442.1,446.2 L1444.3,451.8 L1446.5,457.4 L1448.8,462.9 L1451.2,468.4 L1454.1,474.8 L1457.2,481.0 L1460.6,487.1 L1464.4,493.0 L1468.4,498.8 L1472.1,504.6 L1476.0,510.4 L1480.4,515.8 L1485.3,520.8 L1490.6,525.3 L1496.0,529.7 L1501.6,533.9 L1506.5,537.4 L1512.3,541.4 L1518.2,545.1 L1524.3,548.4 L1530.7,551.3 L1537.2,553.8 L1543.9,556.0 L1549.6,557.8 L1555.3,559.5 L1561.1,561.2 L1566.9,562.8 L1572.7,564.4 L1578.5,565.9 L1585.2,567.7 L1592.1,569.3 L1598.9,570.8 L1604.7,572.2 L1610.6,573.6 L1616.4,575.0 L1622.2,576.4 L1628.1,577.8 L1633.9,579.2 L1639.8,580.5 L1645.7,581.7 L1651.5,582.8 L1657.5,583.8 L1663.4,584.8 L1669.3,585.6 L1675.3,586.4 L1681.2,587.2 L1687.2,587.9 L1693.1,588.7 L1699.1,589.4 L1705.1,590.1 L1711.0,590.8 L1717.0,591.6 L1722.9,592.3 L1728.9,593.0 L1734.9,593.7 L1740.8,594.4 L1746.8,595.1 L1752.7,595.7 L1758.7,596.4 L1764.7,597.1 L1770.6,597.8 L1776.6,598.5 L1782.5,599.2 L1788.5,599.9 L1789.5,600.0 L1789.5,600.0 L1789.3,607.0 L1789.2,613.0 L1789.0,619.0 L1788.8,625.0 L1788.5,631.0 L1788.1,638.0 L1787.7,644.0 L1787.2,649.9 L1786.7,655.9 L1786.2,661.9 L1785.6,667.9 L1785.0,673.8 L1784.4,679.8 L1783.8,685.8 L1783.2,691.7 L1782.5,697.7 L1781.9,703.7 L1781.2,709.6 L1780.5,715.6 L1779.8,721.6 L1779.1,727.5 L1778.3,733.5 L1777.6,739.4 L1776.7,745.4 L1775.9,751.3 L1774.7,758.2 L1773.5,765.1 L1772.1,772.0 L1770.5,778.8 L1768.8,785.6 L1767.3,791.4 L1765.8,797.2 L1764.2,803.0 L1762.7,808.8 L1761.2,814.6 L1759.7,820.4 L1758.1,826.2 L1756.5,832.0 L1754.6,838.7 L1752.5,845.4 L1750.2,852.0 L1747.8,858.6 L1745.1,865.0 L1741.9,871.2 L1738.3,877.1 L1734.3,882.9 L1730.0,888.4 L1725.7,893.9 L1721.1,899.3 L1716.5,904.5 L1711.6,909.5 L1706.6,914.3 L1701.2,918.7 L1695.4,922.7 L1689.3,926.0 L1682.9,928.8 L1676.3,931.1 L1669.6,933.0 L1662.8,934.7 L1656.0,936.3 L1649.1,937.7 L1642.2,938.8 L1635.3,939.9 L1629.4,940.7 L1623.4,941.5 L1617.5,942.3 L1611.5,943.2 L1604.6,944.3 L1597.7,945.4 L1591.8,946.5 L1585.9,947.6 L1580.0,948.7 L1574.1,949.9 L1568.3,951.0 L1562.4,952.2 L1556.5,953.3 L1550.6,954.5 L1544.7,955.6 L1538.8,956.6 L1532.9,957.7 L1527.0,958.7 L1521.0,959.7 L1515.1,960.7 L1509.2,961.7 L1503.3,962.7 L1497.4,963.7 L1491.5,964.7 L1485.5,965.7 L1479.6,966.6 L1473.7,967.6 L1467.8,968.6 L1461.8,969.6 L1455.9,970.5 L1450.0,971.5 L1444.1,972.5 L1438.2,973.5 L1432.2,974.5 L1426.3,975.5 L1420.4,976.5 L1414.5,977.5 L1408.6,978.5 L1402.7,979.5 L1396.8,980.6 L1390.9,981.6 L1385.0,982.7 L1379.0,983.8 L1373.1,984.8 L1367.2,985.9 L1361.4,987.1 L1355.5,988.2 L1349.6,989.5 L1342.8,991.0 L1335.9,992.6 L1330.1,994.0 L1324.3,995.5 L1318.5,997.0 L1312.7,998.6 L1306.0,1000.5 L1299.3,1002.5 L1292.6,1004.6 L1286.0,1007.0 L1279.5,1009.6 L1273.2,1012.5 L1267.0,1015.7 L1261.0,1019.3 L1255.2,1023.3 L1249.7,1027.6 L1244.5,1032.2 L1239.4,1037.0 L1234.6,1042.1 L1230.0,1047.3 L1225.7,1052.8 L1221.6,1058.5 L1217.6,1064.3 L1213.8,1070.2 L1210.6,1075.2 L1207.4,1080.3 L1203.7,1086.2 L1200.1,1092.3 L1196.7,1098.3 L1193.7,1103.6 L1190.8,1108.8 L1187.9,1114.0 L1184.9,1119.2 L1181.9,1124.4 L1178.8,1129.6 L1175.7,1134.7 L1172.6,1139.9 L1169.5,1145.0 L1166.4,1150.2 L1163.4,1155.3 L1160.0,1161.4 L1156.6,1167.6 L1153.7,1172.9 L1150.9,1178.2 L1148.2,1183.5 L1145.4,1188.8 L1142.6,1194.1 L1139.8,1199.4 L1137.0,1204.7 L1134.1,1210.0 L1131.3,1215.3 L1128.4,1220.5 L1125.0,1226.6 L1121.5,1232.7 L1118.1,1238.8 L1114.5,1244.8 L1110.5,1250.5 L1105.9,1255.7 L1100.8,1260.5 L1095.4,1265.0 L1089.9,1269.2 L1084.0,1272.9 L1077.7,1275.8 L1071.1,1277.3 L1064.4,1277.0 L1057.9,1275.0 L1051.8,1271.8 L1045.9,1268.0 L1040.3,1263.8 L1035.0,1259.3 L1029.9,1254.6 L1025.3,1249.3 L1021.3,1243.6 L1017.8,1237.6 L1014.5,1231.4 L1011.5,1225.1 L1008.6,1218.7 L1005.9,1212.3 L1003.7,1206.7 L1001.4,1201.1 L999.2,1195.6 L997.0,1190.0 L994.8,1184.4 L992.6,1178.8 L990.4,1173.2 L988.3,1167.6 L986.2,1162.0 L983.8,1155.4 L981.6,1148.8 L979.4,1142.1 L977.4,1135.4 L975.7,1129.7 L974.1,1123.9 L972.5,1118.1 L970.9,1112.3 L969.3,1106.6 L967.6,1100.8 L966.0,1095.0 L964.3,1089.2 L962.6,1083.5 L961.0,1077.7 L959.3,1072.0 L957.6,1066.2 L955.9,1060.4 L954.1,1054.7 L952.4,1049.0 L950.6,1043.2 L948.8,1037.5 L947.0,1031.8 L945.1,1026.1 L943.2,1020.4 L941.3,1014.7 L939.0,1008.1 L936.5,1001.5 L934.4,995.9 L932.2,990.4 L930.0,984.8 L927.3,978.3 L924.4,971.9 L921.5,965.6 L918.4,959.3 L915.2,953.1 L911.8,947.0 L908.3,940.9 L904.8,934.9 L901.1,929.0 L897.3,923.1 L893.5,917.2 L889.6,911.4 L885.6,905.6 L881.6,899.9 L877.4,894.3 L873.1,888.8 L868.6,883.5 L863.9,878.4 L858.9,873.6 L853.6,869.1 L848.1,865.0 L842.3,861.1 L836.3,857.5 L830.3,854.1 L824.1,850.8 L817.8,847.7 L811.5,844.7 L805.1,841.8 L798.7,839.1 L792.2,836.6 L785.6,834.2 L779.0,832.0 L772.3,829.9 L765.6,827.9 L758.9,825.9 L753.1,824.3 L747.3,822.7 L741.5,821.1 L735.8,819.6 L729.9,818.0 L724.1,816.6 L718.3,815.1 L712.5,813.8 L705.6,812.2 L698.8,810.8 L691.9,809.5 L685.0,808.3 L679.1,807.4 L673.1,806.5 L667.2,805.6 L661.3,804.8 L655.3,804.1 L649.3,803.3 L643.4,802.6 L637.4,802.0 L631.5,801.3 L625.5,800.6 L619.5,800.0 L613.6,799.3 L607.6,798.7 L601.6,798.1 L595.7,797.6 L589.7,797.0 L583.7,796.5 L577.7,796.0 L571.7,795.5 L565.8,795.0 L559.8,794.6 L553.8,794.1 L547.8,793.6 L541.8,793.1 L535.9,792.7 L529.9,792.2 L523.9,791.8 L517.9,791.3 L511.9,791.0 L505.9,790.6 L499.9,790.3 L493.9,790.0 L487.9,789.7 L481.9,789.4 L476.0,789.2 L470.0,789.0 L464.0,788.8 L458.0,788.6 L452.0,788.4 L446.0,788.2 L440.0,788.0 L434.0,787.8 L428.0,787.6 L422.0,787.4 L416.0,787.1 L410.0,786.9 L404.0,786.7 L398.0,786.5 L392.0,786.3 L386.0,786.1 L384.0,786.0"/>
</g>
<g fill="#000">
<rect x="273" y="35" width="1628.5" height="8"/>
<rect x="273" y="1338" width="1628.5" height="8"/>
<rect x="273" y="35" width="8" height="1311"/>
<rect x="1893.5" y="35" width="8" height="1311"/>
<rect x="263.5" y="35.0" width="9.5" height="8"/>
<rect x="251.0" y="116.4" width="22.0" height="8"/>
<rect x="263.5" y="197.9" width="9.5" height="8"/>
<rect x="251.0" y="279.3" width="22.0" height="8"/>
<rect x="263.5" y="360.8" width="9.5" height="8"/>
<rect x="251.0" y="442.2" width="22.0" height="8"/>
<rect x="263.5" y="523.6" width="9.5" height="8"/>
<rect x="251.0" y="605.1" width="22.0" height="8"/>
<rect x="263.5" y="686.5" width="9.5" height="8"/>
<rect x="251.0" y="768.0" width="22.0" height="8"/>
<rect x="263.5" y="849.4" width="9.5" height="8"/>
<rect x="251.0" y="930.8" width="22.0" height="8"/>
<rect x="263.5" y="1012.3" width="9.5" height="8"/>
<rect x="251.0" y="1093.7" width="22.0" height="8"/>
<rect x="263.5" y="1175.2" width="9.5" height="8"/>
<rect x="251.0" y="1256.6" width="22.0" height="8"/>
<rect x="263.5" y="1338.0" width="9.5" height="8"/>
<rect x="273.0" y="1346" width="8" height="9.0"/>
<rect x="381.0" y="1346" width="8" height="22.0"/>
<rect x="489.1" y="1346" width="8" height="9.0"/>
<rect x="597.1" y="1346" width="8" height="22.0"/>
<rect x="705.1" y="1346" width="8" height="9.0"/>
<rect x="813.1" y="1346" width="8" height="22.0"/>
<rect x="921.2" y="1346" width="8" height="9.0"/>
<rect x="1029.2" y="1346" width="8" height="22.0"/>
<rect x="1137.2" y="1346" width="8" height="9.0"/>
<rect x="1245.3" y="1346" width="8" height="22.0"/>
<rect x="1353.3" y="1346" width="8" height="9.0"/>
<rect x="1461.3" y="1346" width="8" height="22.0"/>
<rect x="1569.4" y="1346" width="8" height="9.0"/>
<rect x="1677.4" y="1346" width="8" height="22.0"/>
<rect x="1785.4" y="1346" width="8" height="9.0"/>
<rect x="1893.5" y="1346" width="8" height="22.0"/>
</g>
<g font-family="'Liberation Serif', 'DejaVu Serif', serif" fill="#000">
<text x="130.1" y="137.7" font-size="83.0" textLength="102.4" lengthAdjust="spacingAndGlyphs">1.6</text>
<text x="130.1" y="300.8" font-size="83.0" textLength="104.6" lengthAdjust="spacingAndGlyphs">1.2</text>
<text x="131.6" y="463.2" font-size="83.0" textLength="102.7" lengthAdjust="spacingAndGlyphs">0.8</text>
<text x="131.6" y="626.7" font-size="83.0" textLength="101.5" lengthAdjust="spacingAndGlyphs">0.4</text>
<text x="131.6" y="789.3" font-size="83.0" textLength="102.7" lengthAdjust="spacingAndGlyphs">0.0</text>
<text x="105.6" y="952.5" font-size="83.0" textLength="126.9" lengthAdjust="spacingAndGlyphs">-0.4</text>
<text x="105.6" y="1114.6" font-size="83.0" textLength="128.6" lengthAdjust="spacingAndGlyphs">-0.8</text>
<text x="105.6" y="1277.8" font-size="83.0" textLength="128.4" lengthAdjust="spacingAndGlyphs">-1.2</text>
<text x="331.2" y="1443.2" font-size="84.5" textLength="105.7" lengthAdjust="spacingAndGlyphs">3.0</text>
<text x="548.6" y="1443.2" font-size="84.5" textLength="104.4" lengthAdjust="spacingAndGlyphs">3.2</text>
<text x="763.7" y="1443.2" font-size="84.5" textLength="102.6" lengthAdjust="spacingAndGlyphs">3.4</text>
<text x="980.5" y="1443.2" font-size="84.5" textLength="103.5" lengthAdjust="spacingAndGlyphs">3.6</text>
<text x="1195.9" y="1443.2" font-size="84.5" textLength="105.6" lengthAdjust="spacingAndGlyphs">3.8</text>
<text x="1414.3" y="1443.2" font-size="84.5" textLength="103.4" lengthAdjust="spacingAndGlyphs">4.0</text>
<text x="1630.2" y="1443.2" font-size="84.5" textLength="102.9" lengthAdjust="spacingAndGlyphs">4.2</text>
<text x="1846.2" y="1443.2" font-size="84.5" textLength="101.0" lengthAdjust="spacingAndGlyphs">4.4</text>
<text x="883.2" y="1564.2" font-size="83.0" textLength="405.7" lengthAdjust="spacingAndGlyphs">Voltage (V)</text>
<text x="871.2" y="113.6" font-size="83.0" textLength="364.6" lengthAdjust="spacingAndGlyphs">Thick-film</text>
<text transform="translate(85.9,933.0) rotate(-90)" font-size="83.0" textLength="487.9" lengthAdjust="spacingAndGlyphs">Current (mA)</text>
<text x="437.0" y="130.4" font-size="85.5" textLength="111.4" lengthAdjust="spacingAndGlyphs">TA</text>
<text x="436.3" y="248.3" font-size="85.5" textLength="111.1" lengthAdjust="spacingAndGlyphs">BA</text>
<text x="436.3" y="367.2" font-size="85.5" textLength="99.2" lengthAdjust="spacingAndGlyphs">BT</text>
<text x="438.6" y="484.6" font-size="85.5" textLength="281.4" lengthAdjust="spacingAndGlyphs">TBA 1:2</text>
<text x="438.6" y="602.1" font-size="85.5" textLength="277.5" lengthAdjust="spacingAndGlyphs">TBA 1:1</text>
<text x="438.6" y="720.0" font-size="85.5" textLength="277.5" lengthAdjust="spacingAndGlyphs">TBA 2:1</text>
<text x="435.9" y="955.8" font-size="85.5" textLength="284.7" lengthAdjust="spacingAndGlyphs">BTA 1:2</text>
<text x="435.9" y="1073.1" font-size="85.5" textLength="281.1" lengthAdjust="spacingAndGlyphs">BTA 1:1</text>
<text x="435.9" y="1192.9" font-size="85.5" textLength="281.1" lengthAdjust="spacingAndGlyphs">BTA 2:1</text>
</g>
<rect x="288" y="94.8" width="130" height="9" fill="#DF2A71"/>
<rect x="288" y="213.0" width="130" height="9" fill="#FDAF12"/>
<rect x="288" y="330.9" width="130" height="9" fill="#58D598"/>
<rect x="288" y="448.9" width="130" height="9" fill="#FE7720"/>
<rect x="288" y="567.0" width="130" height="9" fill="#FE4846"/>
<rect x="288" y="684.9" width="130" height="9" fill="#E02929"/>
<rect x="288" y="920.8" width="130" height="9" fill="#F5EF2D"/>
<rect x="288" y="1038.7" width="130" height="9" fill="#D9DD00"/>
<rect x="288" y="1156.6" width="130" height="9" fill="#74AF11"/>
</svg>
</body></html>
